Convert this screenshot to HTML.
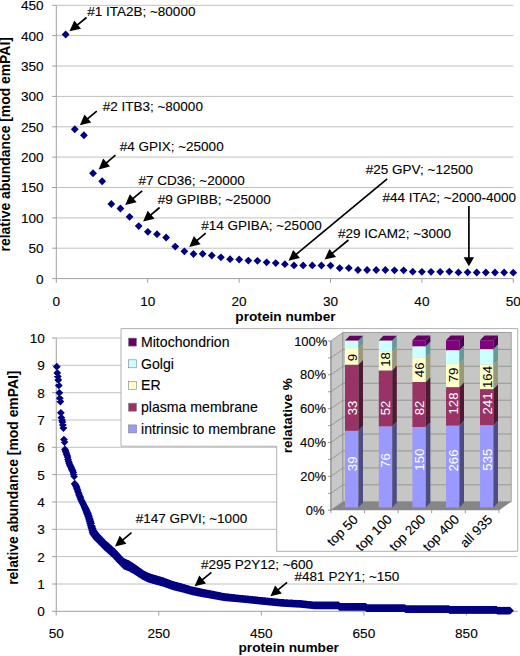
<!DOCTYPE html>
<html><head><meta charset="utf-8"><style>html,body{margin:0;padding:0;background:#fff;width:520px;height:656px;overflow:hidden}</style></head>
<body>
<svg width="520" height="656" viewBox="0 0 520 656" style="display:block;font-family:'Liberation Sans', sans-serif">
<rect width="520" height="656" fill="#fff"/>
<line x1="52" y1="278.6" x2="56.3" y2="278.6" stroke="#a0a0a0" stroke-width="1"/>
<text x="43.6" y="283.5" font-size="13.6" text-anchor="end" font-weight="normal" fill="#000" stroke="#000" stroke-width="0.12" >0</text>
<line x1="56.3" y1="248.2" x2="513.3" y2="248.2" stroke="#c0c0c0" stroke-width="1"/>
<line x1="52" y1="248.2" x2="56.3" y2="248.2" stroke="#a0a0a0" stroke-width="1"/>
<text x="43.6" y="253.1" font-size="13.6" text-anchor="end" font-weight="normal" fill="#000" stroke="#000" stroke-width="0.12" >50</text>
<line x1="56.3" y1="217.9" x2="513.3" y2="217.9" stroke="#c0c0c0" stroke-width="1"/>
<line x1="52" y1="217.9" x2="56.3" y2="217.9" stroke="#a0a0a0" stroke-width="1"/>
<text x="43.6" y="222.8" font-size="13.6" text-anchor="end" font-weight="normal" fill="#000" stroke="#000" stroke-width="0.12" >100</text>
<line x1="56.3" y1="187.5" x2="513.3" y2="187.5" stroke="#c0c0c0" stroke-width="1"/>
<line x1="52" y1="187.5" x2="56.3" y2="187.5" stroke="#a0a0a0" stroke-width="1"/>
<text x="43.6" y="192.4" font-size="13.6" text-anchor="end" font-weight="normal" fill="#000" stroke="#000" stroke-width="0.12" >150</text>
<line x1="56.3" y1="157.1" x2="513.3" y2="157.1" stroke="#c0c0c0" stroke-width="1"/>
<line x1="52" y1="157.1" x2="56.3" y2="157.1" stroke="#a0a0a0" stroke-width="1"/>
<text x="43.6" y="162.0" font-size="13.6" text-anchor="end" font-weight="normal" fill="#000" stroke="#000" stroke-width="0.12" >200</text>
<line x1="56.3" y1="126.8" x2="513.3" y2="126.8" stroke="#c0c0c0" stroke-width="1"/>
<line x1="52" y1="126.8" x2="56.3" y2="126.8" stroke="#a0a0a0" stroke-width="1"/>
<text x="43.6" y="131.7" font-size="13.6" text-anchor="end" font-weight="normal" fill="#000" stroke="#000" stroke-width="0.12" >250</text>
<line x1="56.3" y1="96.4" x2="513.3" y2="96.4" stroke="#c0c0c0" stroke-width="1"/>
<line x1="52" y1="96.4" x2="56.3" y2="96.4" stroke="#a0a0a0" stroke-width="1"/>
<text x="43.6" y="101.3" font-size="13.6" text-anchor="end" font-weight="normal" fill="#000" stroke="#000" stroke-width="0.12" >300</text>
<line x1="56.3" y1="66.0" x2="513.3" y2="66.0" stroke="#c0c0c0" stroke-width="1"/>
<line x1="52" y1="66.0" x2="56.3" y2="66.0" stroke="#a0a0a0" stroke-width="1"/>
<text x="43.6" y="70.9" font-size="13.6" text-anchor="end" font-weight="normal" fill="#000" stroke="#000" stroke-width="0.12" >350</text>
<line x1="56.3" y1="35.6" x2="513.3" y2="35.6" stroke="#c0c0c0" stroke-width="1"/>
<line x1="52" y1="35.6" x2="56.3" y2="35.6" stroke="#a0a0a0" stroke-width="1"/>
<text x="43.6" y="40.5" font-size="13.6" text-anchor="end" font-weight="normal" fill="#000" stroke="#000" stroke-width="0.12" >400</text>
<line x1="56.3" y1="5.3" x2="513.3" y2="5.3" stroke="#c0c0c0" stroke-width="1"/>
<line x1="52" y1="5.3" x2="56.3" y2="5.3" stroke="#a0a0a0" stroke-width="1"/>
<text x="43.6" y="10.2" font-size="13.6" text-anchor="end" font-weight="normal" fill="#000" stroke="#000" stroke-width="0.12" >450</text>
<line x1="56.3" y1="5.3" x2="56.3" y2="278.6" stroke="#a0a0a0" stroke-width="1"/>
<line x1="56.3" y1="278.6" x2="513.3" y2="278.6" stroke="#a0a0a0" stroke-width="1"/>
<line x1="56.3" y1="278.6" x2="56.3" y2="282.8" stroke="#a0a0a0" stroke-width="1"/>
<text x="56.3" y="306.2" font-size="13.6" text-anchor="middle" font-weight="normal" fill="#000" stroke="#000" stroke-width="0.12" >0</text>
<line x1="147.7" y1="278.6" x2="147.7" y2="282.8" stroke="#a0a0a0" stroke-width="1"/>
<text x="147.7" y="306.2" font-size="13.6" text-anchor="middle" font-weight="normal" fill="#000" stroke="#000" stroke-width="0.12" >10</text>
<line x1="239.1" y1="278.6" x2="239.1" y2="282.8" stroke="#a0a0a0" stroke-width="1"/>
<text x="239.1" y="306.2" font-size="13.6" text-anchor="middle" font-weight="normal" fill="#000" stroke="#000" stroke-width="0.12" >20</text>
<line x1="330.5" y1="278.6" x2="330.5" y2="282.8" stroke="#a0a0a0" stroke-width="1"/>
<text x="330.5" y="306.2" font-size="13.6" text-anchor="middle" font-weight="normal" fill="#000" stroke="#000" stroke-width="0.12" >30</text>
<line x1="421.9" y1="278.6" x2="421.9" y2="282.8" stroke="#a0a0a0" stroke-width="1"/>
<text x="421.9" y="306.2" font-size="13.6" text-anchor="middle" font-weight="normal" fill="#000" stroke="#000" stroke-width="0.12" >40</text>
<line x1="513.3" y1="278.6" x2="513.3" y2="282.8" stroke="#a0a0a0" stroke-width="1"/>
<text x="513.3" y="306.2" font-size="13.6" text-anchor="middle" font-weight="normal" fill="#000" stroke="#000" stroke-width="0.12" >50</text>
<text x="285.5" y="320.9" font-size="13.7" text-anchor="middle" font-weight="bold" fill="#000" >protein number</text>
<text x="0.0" y="0.0" font-size="13.9" text-anchor="middle" font-weight="bold" fill="#000" transform="translate(10,144.3) rotate(-90)">relative abundance [mod emPAI]</text>
<path d="M65.64 30.60l3.9 3.9l-3.9 3.9l-3.9 -3.9zM74.77 125.35l3.9 3.9l-3.9 3.9l-3.9 -3.9zM83.91 131.35l3.9 3.9l-3.9 3.9l-3.9 -3.9zM93.04 169.35l3.9 3.9l-3.9 3.9l-3.9 -3.9zM102.17 177.35l3.9 3.9l-3.9 3.9l-3.9 -3.9zM111.31 200.10l3.9 3.9l-3.9 3.9l-3.9 -3.9zM120.44 204.60l3.9 3.9l-3.9 3.9l-3.9 -3.9zM129.58 212.90l3.9 3.9l-3.9 3.9l-3.9 -3.9zM138.72 222.20l3.9 3.9l-3.9 3.9l-3.9 -3.9zM147.85 227.90l3.9 3.9l-3.9 3.9l-3.9 -3.9zM156.99 230.30l3.9 3.9l-3.9 3.9l-3.9 -3.9zM166.12 233.60l3.9 3.9l-3.9 3.9l-3.9 -3.9zM175.25 242.70l3.9 3.9l-3.9 3.9l-3.9 -3.9zM184.39 247.40l3.9 3.9l-3.9 3.9l-3.9 -3.9zM193.53 250.10l3.9 3.9l-3.9 3.9l-3.9 -3.9zM202.66 249.90l3.9 3.9l-3.9 3.9l-3.9 -3.9zM211.79 251.60l3.9 3.9l-3.9 3.9l-3.9 -3.9zM220.93 253.40l3.9 3.9l-3.9 3.9l-3.9 -3.9zM230.06 255.30l3.9 3.9l-3.9 3.9l-3.9 -3.9zM239.20 255.60l3.9 3.9l-3.9 3.9l-3.9 -3.9zM248.34 256.70l3.9 3.9l-3.9 3.9l-3.9 -3.9zM257.47 256.90l3.9 3.9l-3.9 3.9l-3.9 -3.9zM266.61 258.40l3.9 3.9l-3.9 3.9l-3.9 -3.9zM275.74 259.20l3.9 3.9l-3.9 3.9l-3.9 -3.9zM284.88 260.30l3.9 3.9l-3.9 3.9l-3.9 -3.9zM294.01 261.50l3.9 3.9l-3.9 3.9l-3.9 -3.9zM303.14 261.50l3.9 3.9l-3.9 3.9l-3.9 -3.9zM312.28 261.50l3.9 3.9l-3.9 3.9l-3.9 -3.9zM321.42 261.60l3.9 3.9l-3.9 3.9l-3.9 -3.9zM330.55 261.70l3.9 3.9l-3.9 3.9l-3.9 -3.9zM339.69 264.20l3.9 3.9l-3.9 3.9l-3.9 -3.9zM348.82 264.20l3.9 3.9l-3.9 3.9l-3.9 -3.9zM357.95 266.10l3.9 3.9l-3.9 3.9l-3.9 -3.9zM367.09 266.10l3.9 3.9l-3.9 3.9l-3.9 -3.9zM376.22 266.10l3.9 3.9l-3.9 3.9l-3.9 -3.9zM385.36 266.10l3.9 3.9l-3.9 3.9l-3.9 -3.9zM394.50 266.40l3.9 3.9l-3.9 3.9l-3.9 -3.9zM403.63 266.40l3.9 3.9l-3.9 3.9l-3.9 -3.9zM412.76 267.80l3.9 3.9l-3.9 3.9l-3.9 -3.9zM421.90 267.90l3.9 3.9l-3.9 3.9l-3.9 -3.9zM431.03 267.90l3.9 3.9l-3.9 3.9l-3.9 -3.9zM440.17 267.90l3.9 3.9l-3.9 3.9l-3.9 -3.9zM449.31 267.70l3.9 3.9l-3.9 3.9l-3.9 -3.9zM458.44 268.50l3.9 3.9l-3.9 3.9l-3.9 -3.9zM467.57 268.40l3.9 3.9l-3.9 3.9l-3.9 -3.9zM476.71 268.60l3.9 3.9l-3.9 3.9l-3.9 -3.9zM485.84 268.60l3.9 3.9l-3.9 3.9l-3.9 -3.9zM494.98 268.60l3.9 3.9l-3.9 3.9l-3.9 -3.9zM504.12 268.60l3.9 3.9l-3.9 3.9l-3.9 -3.9zM513.25 268.80l3.9 3.9l-3.9 3.9l-3.9 -3.9z" fill="#000080"/>
<text x="87.2" y="16.1" font-size="13.5" text-anchor="start" font-weight="normal" fill="#000" stroke="#000" stroke-width="0.12" >#1 ITA2B; ~80000</text>
<line x1="86.5" y1="17.5" x2="76.9" y2="25.3" stroke="#000" stroke-width="1.7"/>
<path d="M69.5 31.3L74.3 20.6L81.0 28.8Z" fill="#000"/>
<text x="102.7" y="110.6" font-size="13.5" text-anchor="start" font-weight="normal" fill="#000" stroke="#000" stroke-width="0.12" >#2 ITB3; ~80000</text>
<line x1="96.8" y1="111.1" x2="87.1" y2="119.1" stroke="#000" stroke-width="1.7"/>
<path d="M79.8 125.2L84.5 114.5L91.2 122.5Z" fill="#000"/>
<text x="119.7" y="151.4" font-size="13.5" text-anchor="start" font-weight="normal" fill="#000" stroke="#000" stroke-width="0.12" >#4 GPIX; ~25000</text>
<line x1="115.4" y1="155.2" x2="105.9" y2="163.3" stroke="#000" stroke-width="1.7"/>
<path d="M98.6 169.4L103.2 158.6L110.0 166.6Z" fill="#000"/>
<text x="138.5" y="185.0" font-size="13.5" text-anchor="start" font-weight="normal" fill="#000" stroke="#000" stroke-width="0.12" >#7 CD36; ~20000</text>
<line x1="142.2" y1="190.8" x2="132.5" y2="198.9" stroke="#000" stroke-width="1.7"/>
<path d="M125.2 205.0L129.9 194.2L136.6 202.3Z" fill="#000"/>
<text x="157.7" y="204.2" font-size="13.5" text-anchor="start" font-weight="normal" fill="#000" stroke="#000" stroke-width="0.12" >#9 GPIBB; ~25000</text>
<line x1="159.6" y1="207.5" x2="150.3" y2="215.4" stroke="#000" stroke-width="1.7"/>
<path d="M143.1 221.5L147.7 210.7L154.5 218.7Z" fill="#000"/>
<text x="201.2" y="229.6" font-size="13.5" text-anchor="start" font-weight="normal" fill="#000" stroke="#000" stroke-width="0.12" >#14 GPIBA; ~25000</text>
<line x1="205.7" y1="233.1" x2="196.5" y2="240.8" stroke="#000" stroke-width="1.7"/>
<path d="M189.2 246.9L193.9 236.1L200.6 244.2Z" fill="#000"/>
<text x="365.8" y="174.0" font-size="13.5" text-anchor="start" font-weight="normal" fill="#000" stroke="#000" stroke-width="0.12" >#25 GPV; ~12500</text>
<line x1="387.2" y1="178.8" x2="295.8" y2="254.7" stroke="#000" stroke-width="1.7"/>
<path d="M288.5 260.8L293.2 250.1L299.9 258.1Z" fill="#000"/>
<text x="382.4" y="201.7" font-size="13.5" text-anchor="start" font-weight="normal" fill="#000" stroke="#000" stroke-width="0.12" >#44 ITA2; ~2000-4000</text>
<line x1="468.9" y1="206.0" x2="468.9" y2="258.3" stroke="#000" stroke-width="1.7"/>
<path d="M468.9 266.3L463.6 257.3L474.1 257.3Z" fill="#000"/>
<text x="338.1" y="237.7" font-size="13.5" text-anchor="start" font-weight="normal" fill="#000" stroke="#000" stroke-width="0.12" >#29 ICAM2; ~3000</text>
<line x1="348.5" y1="240.0" x2="331.9" y2="253.6" stroke="#000" stroke-width="1.7"/>
<path d="M324.6 259.6L329.4 248.9L336.0 257.0Z" fill="#000"/>
<line x1="52" y1="611.3" x2="56.25" y2="611.3" stroke="#a0a0a0" stroke-width="1"/>
<text x="44.8" y="616.2" font-size="13.6" text-anchor="end" font-weight="normal" fill="#000" stroke="#000" stroke-width="0.12" >0</text>
<line x1="56.25" y1="584.0" x2="517.7" y2="584.0" stroke="#c0c0c0" stroke-width="1"/>
<line x1="52" y1="584.0" x2="56.25" y2="584.0" stroke="#a0a0a0" stroke-width="1"/>
<text x="44.8" y="588.9" font-size="13.6" text-anchor="end" font-weight="normal" fill="#000" stroke="#000" stroke-width="0.12" >1</text>
<line x1="56.25" y1="556.6" x2="517.7" y2="556.6" stroke="#c0c0c0" stroke-width="1"/>
<line x1="52" y1="556.6" x2="56.25" y2="556.6" stroke="#a0a0a0" stroke-width="1"/>
<text x="44.8" y="561.5" font-size="13.6" text-anchor="end" font-weight="normal" fill="#000" stroke="#000" stroke-width="0.12" >2</text>
<line x1="56.25" y1="529.3" x2="517.7" y2="529.3" stroke="#c0c0c0" stroke-width="1"/>
<line x1="52" y1="529.3" x2="56.25" y2="529.3" stroke="#a0a0a0" stroke-width="1"/>
<text x="44.8" y="534.2" font-size="13.6" text-anchor="end" font-weight="normal" fill="#000" stroke="#000" stroke-width="0.12" >3</text>
<line x1="56.25" y1="502.0" x2="517.7" y2="502.0" stroke="#c0c0c0" stroke-width="1"/>
<line x1="52" y1="502.0" x2="56.25" y2="502.0" stroke="#a0a0a0" stroke-width="1"/>
<text x="44.8" y="506.9" font-size="13.6" text-anchor="end" font-weight="normal" fill="#000" stroke="#000" stroke-width="0.12" >4</text>
<line x1="56.25" y1="474.6" x2="517.7" y2="474.6" stroke="#c0c0c0" stroke-width="1"/>
<line x1="52" y1="474.6" x2="56.25" y2="474.6" stroke="#a0a0a0" stroke-width="1"/>
<text x="44.8" y="479.5" font-size="13.6" text-anchor="end" font-weight="normal" fill="#000" stroke="#000" stroke-width="0.12" >5</text>
<line x1="56.25" y1="447.3" x2="517.7" y2="447.3" stroke="#c0c0c0" stroke-width="1"/>
<line x1="52" y1="447.3" x2="56.25" y2="447.3" stroke="#a0a0a0" stroke-width="1"/>
<text x="44.8" y="452.2" font-size="13.6" text-anchor="end" font-weight="normal" fill="#000" stroke="#000" stroke-width="0.12" >6</text>
<line x1="56.25" y1="420.0" x2="517.7" y2="420.0" stroke="#c0c0c0" stroke-width="1"/>
<line x1="52" y1="420.0" x2="56.25" y2="420.0" stroke="#a0a0a0" stroke-width="1"/>
<text x="44.8" y="424.9" font-size="13.6" text-anchor="end" font-weight="normal" fill="#000" stroke="#000" stroke-width="0.12" >7</text>
<line x1="56.25" y1="392.7" x2="517.7" y2="392.7" stroke="#c0c0c0" stroke-width="1"/>
<line x1="52" y1="392.7" x2="56.25" y2="392.7" stroke="#a0a0a0" stroke-width="1"/>
<text x="44.8" y="397.6" font-size="13.6" text-anchor="end" font-weight="normal" fill="#000" stroke="#000" stroke-width="0.12" >8</text>
<line x1="56.25" y1="365.3" x2="517.7" y2="365.3" stroke="#c0c0c0" stroke-width="1"/>
<line x1="52" y1="365.3" x2="56.25" y2="365.3" stroke="#a0a0a0" stroke-width="1"/>
<text x="44.8" y="370.2" font-size="13.6" text-anchor="end" font-weight="normal" fill="#000" stroke="#000" stroke-width="0.12" >9</text>
<line x1="56.25" y1="338.0" x2="517.7" y2="338.0" stroke="#c0c0c0" stroke-width="1"/>
<line x1="52" y1="338.0" x2="56.25" y2="338.0" stroke="#a0a0a0" stroke-width="1"/>
<text x="44.8" y="342.9" font-size="13.6" text-anchor="end" font-weight="normal" fill="#000" stroke="#000" stroke-width="0.12" >10</text>
<line x1="56.25" y1="338.0" x2="56.25" y2="611.3" stroke="#a0a0a0" stroke-width="1"/>
<line x1="56.25" y1="611.3" x2="517.7" y2="611.3" stroke="#a0a0a0" stroke-width="1"/>
<line x1="56.2" y1="611.3" x2="56.2" y2="615.5" stroke="#a0a0a0" stroke-width="1"/>
<text x="56.2" y="638.0" font-size="13.6" text-anchor="middle" font-weight="normal" fill="#000" stroke="#000" stroke-width="0.12" >50</text>
<line x1="158.8" y1="611.3" x2="158.8" y2="615.5" stroke="#a0a0a0" stroke-width="1"/>
<text x="158.8" y="638.0" font-size="13.6" text-anchor="middle" font-weight="normal" fill="#000" stroke="#000" stroke-width="0.12" >250</text>
<line x1="261.3" y1="611.3" x2="261.3" y2="615.5" stroke="#a0a0a0" stroke-width="1"/>
<text x="261.3" y="638.0" font-size="13.6" text-anchor="middle" font-weight="normal" fill="#000" stroke="#000" stroke-width="0.12" >450</text>
<line x1="363.9" y1="611.3" x2="363.9" y2="615.5" stroke="#a0a0a0" stroke-width="1"/>
<text x="363.9" y="638.0" font-size="13.6" text-anchor="middle" font-weight="normal" fill="#000" stroke="#000" stroke-width="0.12" >650</text>
<line x1="466.4" y1="611.3" x2="466.4" y2="615.5" stroke="#a0a0a0" stroke-width="1"/>
<text x="466.4" y="638.0" font-size="13.6" text-anchor="middle" font-weight="normal" fill="#000" stroke="#000" stroke-width="0.12" >850</text>
<text x="288.7" y="652.2" font-size="13.7" text-anchor="middle" font-weight="bold" fill="#000" >protein number</text>
<text x="0.0" y="0.0" font-size="13.9" text-anchor="middle" font-weight="bold" fill="#000" transform="translate(18.3,477.7) rotate(-90)">relative abundance [mod emPAI]</text>
<path d="M56.76 362.80l3.9 3.9l-3.9 3.9l-3.9 -3.9zM57.28 369.10l3.9 3.9l-3.9 3.9l-3.9 -3.9zM57.79 372.60l3.9 3.9l-3.9 3.9l-3.9 -3.9zM58.30 376.10l3.9 3.9l-3.9 3.9l-3.9 -3.9zM58.81 381.50l3.9 3.9l-3.9 3.9l-3.9 -3.9zM59.33 388.90l3.9 3.9l-3.9 3.9l-3.9 -3.9zM59.84 394.40l3.9 3.9l-3.9 3.9l-3.9 -3.9zM60.35 397.60l3.9 3.9l-3.9 3.9l-3.9 -3.9zM60.86 408.90l3.9 3.9l-3.9 3.9l-3.9 -3.9zM61.38 413.80l3.9 3.9l-3.9 3.9l-3.9 -3.9zM61.89 416.10l3.9 3.9l-3.9 3.9l-3.9 -3.9zM62.40 418.10l3.9 3.9l-3.9 3.9l-3.9 -3.9zM62.92 421.10l3.9 3.9l-3.9 3.9l-3.9 -3.9zM63.43 424.10l3.9 3.9l-3.9 3.9l-3.9 -3.9zM63.94 435.70l3.9 3.9l-3.9 3.9l-3.9 -3.9zM64.45 438.10l3.9 3.9l-3.9 3.9l-3.9 -3.9zM64.97 445.60l3.9 3.9l-3.9 3.9l-3.9 -3.9zM65.48 447.10l3.9 3.9l-3.9 3.9l-3.9 -3.9zM65.99 448.60l3.9 3.9l-3.9 3.9l-3.9 -3.9zM66.50 450.10l3.9 3.9l-3.9 3.9l-3.9 -3.9zM67.02 451.60l3.9 3.9l-3.9 3.9l-3.9 -3.9zM67.53 453.10l3.9 3.9l-3.9 3.9l-3.9 -3.9zM68.04 455.60l3.9 3.9l-3.9 3.9l-3.9 -3.9zM68.56 457.60l3.9 3.9l-3.9 3.9l-3.9 -3.9zM69.07 459.10l3.9 3.9l-3.9 3.9l-3.9 -3.9zM69.58 460.60l3.9 3.9l-3.9 3.9l-3.9 -3.9zM70.09 461.60l3.9 3.9l-3.9 3.9l-3.9 -3.9zM70.61 462.60l3.9 3.9l-3.9 3.9l-3.9 -3.9zM71.12 463.60l3.9 3.9l-3.9 3.9l-3.9 -3.9zM71.63 465.10l3.9 3.9l-3.9 3.9l-3.9 -3.9zM72.14 466.10l3.9 3.9l-3.9 3.9l-3.9 -3.9zM72.66 467.10l3.9 3.9l-3.9 3.9l-3.9 -3.9zM73.17 468.60l3.9 3.9l-3.9 3.9l-3.9 -3.9zM73.68 470.60l3.9 3.9l-3.9 3.9l-3.9 -3.9zM74.20 472.40l3.9 3.9l-3.9 3.9l-3.9 -3.9zM74.71 479.87l3.9 3.9l-3.9 3.9l-3.9 -3.9zM75.22 480.69l3.9 3.9l-3.9 3.9l-3.9 -3.9zM75.73 481.51l3.9 3.9l-3.9 3.9l-3.9 -3.9zM76.25 482.54l3.9 3.9l-3.9 3.9l-3.9 -3.9zM76.76 484.08l3.9 3.9l-3.9 3.9l-3.9 -3.9zM77.27 485.61l3.9 3.9l-3.9 3.9l-3.9 -3.9zM77.78 487.15l3.9 3.9l-3.9 3.9l-3.9 -3.9zM78.30 488.69l3.9 3.9l-3.9 3.9l-3.9 -3.9zM78.81 490.04l3.9 3.9l-3.9 3.9l-3.9 -3.9zM79.32 491.34l3.9 3.9l-3.9 3.9l-3.9 -3.9zM79.84 492.64l3.9 3.9l-3.9 3.9l-3.9 -3.9zM80.35 493.93l3.9 3.9l-3.9 3.9l-3.9 -3.9zM80.86 495.23l3.9 3.9l-3.9 3.9l-3.9 -3.9zM81.37 496.53l3.9 3.9l-3.9 3.9l-3.9 -3.9zM81.89 497.57l3.9 3.9l-3.9 3.9l-3.9 -3.9zM82.40 498.60l3.9 3.9l-3.9 3.9l-3.9 -3.9zM82.91 499.62l3.9 3.9l-3.9 3.9l-3.9 -3.9zM83.42 500.65l3.9 3.9l-3.9 3.9l-3.9 -3.9zM83.94 501.67l3.9 3.9l-3.9 3.9l-3.9 -3.9zM84.45 502.70l3.9 3.9l-3.9 3.9l-3.9 -3.9zM84.96 503.72l3.9 3.9l-3.9 3.9l-3.9 -3.9zM85.48 504.87l3.9 3.9l-3.9 3.9l-3.9 -3.9zM85.99 506.13l3.9 3.9l-3.9 3.9l-3.9 -3.9zM86.50 507.39l3.9 3.9l-3.9 3.9l-3.9 -3.9zM87.01 508.65l3.9 3.9l-3.9 3.9l-3.9 -3.9zM87.53 509.90l3.9 3.9l-3.9 3.9l-3.9 -3.9zM88.04 511.16l3.9 3.9l-3.9 3.9l-3.9 -3.9zM88.55 512.64l3.9 3.9l-3.9 3.9l-3.9 -3.9zM89.06 514.36l3.9 3.9l-3.9 3.9l-3.9 -3.9zM89.58 516.07l3.9 3.9l-3.9 3.9l-3.9 -3.9zM90.09 517.79l3.9 3.9l-3.9 3.9l-3.9 -3.9zM90.60 519.51l3.9 3.9l-3.9 3.9l-3.9 -3.9zM91.12 521.32l3.9 3.9l-3.9 3.9l-3.9 -3.9zM91.63 523.14l3.9 3.9l-3.9 3.9l-3.9 -3.9zM92.14 524.96l3.9 3.9l-3.9 3.9l-3.9 -3.9zM92.65 526.77l3.9 3.9l-3.9 3.9l-3.9 -3.9zM93.17 528.22l3.9 3.9l-3.9 3.9l-3.9 -3.9zM93.68 528.91l3.9 3.9l-3.9 3.9l-3.9 -3.9zM94.19 529.60l3.9 3.9l-3.9 3.9l-3.9 -3.9zM94.70 530.29l3.9 3.9l-3.9 3.9l-3.9 -3.9zM95.22 530.98l3.9 3.9l-3.9 3.9l-3.9 -3.9zM95.73 531.66l3.9 3.9l-3.9 3.9l-3.9 -3.9zM96.24 532.35l3.9 3.9l-3.9 3.9l-3.9 -3.9zM96.76 533.04l3.9 3.9l-3.9 3.9l-3.9 -3.9zM97.27 533.57l3.9 3.9l-3.9 3.9l-3.9 -3.9zM97.78 534.08l3.9 3.9l-3.9 3.9l-3.9 -3.9zM98.29 534.59l3.9 3.9l-3.9 3.9l-3.9 -3.9zM98.81 535.11l3.9 3.9l-3.9 3.9l-3.9 -3.9zM99.32 535.62l3.9 3.9l-3.9 3.9l-3.9 -3.9zM99.83 536.13l3.9 3.9l-3.9 3.9l-3.9 -3.9zM100.34 536.64l3.9 3.9l-3.9 3.9l-3.9 -3.9zM100.86 537.16l3.9 3.9l-3.9 3.9l-3.9 -3.9zM101.37 537.67l3.9 3.9l-3.9 3.9l-3.9 -3.9zM101.88 538.19l3.9 3.9l-3.9 3.9l-3.9 -3.9zM102.40 538.71l3.9 3.9l-3.9 3.9l-3.9 -3.9zM102.91 539.24l3.9 3.9l-3.9 3.9l-3.9 -3.9zM103.42 539.77l3.9 3.9l-3.9 3.9l-3.9 -3.9zM103.93 540.30l3.9 3.9l-3.9 3.9l-3.9 -3.9zM104.45 540.83l3.9 3.9l-3.9 3.9l-3.9 -3.9zM104.96 541.34l3.9 3.9l-3.9 3.9l-3.9 -3.9zM105.47 541.80l3.9 3.9l-3.9 3.9l-3.9 -3.9zM105.98 542.26l3.9 3.9l-3.9 3.9l-3.9 -3.9zM106.50 542.72l3.9 3.9l-3.9 3.9l-3.9 -3.9zM107.01 543.18l3.9 3.9l-3.9 3.9l-3.9 -3.9zM107.52 543.64l3.9 3.9l-3.9 3.9l-3.9 -3.9zM108.03 544.10l3.9 3.9l-3.9 3.9l-3.9 -3.9zM108.55 544.56l3.9 3.9l-3.9 3.9l-3.9 -3.9zM109.06 545.02l3.9 3.9l-3.9 3.9l-3.9 -3.9zM109.57 545.48l3.9 3.9l-3.9 3.9l-3.9 -3.9zM110.09 545.94l3.9 3.9l-3.9 3.9l-3.9 -3.9zM110.60 546.40l3.9 3.9l-3.9 3.9l-3.9 -3.9zM111.11 546.87l3.9 3.9l-3.9 3.9l-3.9 -3.9zM111.62 547.33l3.9 3.9l-3.9 3.9l-3.9 -3.9zM112.14 547.80l3.9 3.9l-3.9 3.9l-3.9 -3.9zM112.65 548.26l3.9 3.9l-3.9 3.9l-3.9 -3.9zM113.16 548.73l3.9 3.9l-3.9 3.9l-3.9 -3.9zM113.67 549.19l3.9 3.9l-3.9 3.9l-3.9 -3.9zM114.19 549.66l3.9 3.9l-3.9 3.9l-3.9 -3.9zM114.70 550.18l3.9 3.9l-3.9 3.9l-3.9 -3.9zM115.21 550.74l3.9 3.9l-3.9 3.9l-3.9 -3.9zM115.73 551.30l3.9 3.9l-3.9 3.9l-3.9 -3.9zM116.24 551.86l3.9 3.9l-3.9 3.9l-3.9 -3.9zM116.75 552.42l3.9 3.9l-3.9 3.9l-3.9 -3.9zM117.26 552.98l3.9 3.9l-3.9 3.9l-3.9 -3.9zM117.78 553.54l3.9 3.9l-3.9 3.9l-3.9 -3.9zM118.29 554.10l3.9 3.9l-3.9 3.9l-3.9 -3.9zM118.80 554.66l3.9 3.9l-3.9 3.9l-3.9 -3.9zM119.31 555.21l3.9 3.9l-3.9 3.9l-3.9 -3.9zM119.83 555.73l3.9 3.9l-3.9 3.9l-3.9 -3.9zM120.34 556.24l3.9 3.9l-3.9 3.9l-3.9 -3.9zM120.85 556.75l3.9 3.9l-3.9 3.9l-3.9 -3.9zM121.37 557.27l3.9 3.9l-3.9 3.9l-3.9 -3.9zM121.88 557.78l3.9 3.9l-3.9 3.9l-3.9 -3.9zM122.39 558.29l3.9 3.9l-3.9 3.9l-3.9 -3.9zM122.90 558.80l3.9 3.9l-3.9 3.9l-3.9 -3.9zM123.42 559.32l3.9 3.9l-3.9 3.9l-3.9 -3.9zM123.93 559.83l3.9 3.9l-3.9 3.9l-3.9 -3.9zM124.44 560.08l3.9 3.9l-3.9 3.9l-3.9 -3.9zM124.95 560.30l3.9 3.9l-3.9 3.9l-3.9 -3.9zM125.47 560.51l3.9 3.9l-3.9 3.9l-3.9 -3.9zM125.98 560.73l3.9 3.9l-3.9 3.9l-3.9 -3.9zM126.49 560.94l3.9 3.9l-3.9 3.9l-3.9 -3.9zM127.01 561.15l3.9 3.9l-3.9 3.9l-3.9 -3.9zM127.52 561.37l3.9 3.9l-3.9 3.9l-3.9 -3.9zM128.03 561.58l3.9 3.9l-3.9 3.9l-3.9 -3.9zM128.54 561.79l3.9 3.9l-3.9 3.9l-3.9 -3.9zM129.06 562.05l3.9 3.9l-3.9 3.9l-3.9 -3.9zM129.57 562.36l3.9 3.9l-3.9 3.9l-3.9 -3.9zM130.08 562.66l3.9 3.9l-3.9 3.9l-3.9 -3.9zM130.59 562.96l3.9 3.9l-3.9 3.9l-3.9 -3.9zM131.11 563.27l3.9 3.9l-3.9 3.9l-3.9 -3.9zM131.62 563.57l3.9 3.9l-3.9 3.9l-3.9 -3.9zM132.13 563.87l3.9 3.9l-3.9 3.9l-3.9 -3.9zM132.65 564.18l3.9 3.9l-3.9 3.9l-3.9 -3.9zM133.16 564.48l3.9 3.9l-3.9 3.9l-3.9 -3.9zM133.67 564.78l3.9 3.9l-3.9 3.9l-3.9 -3.9zM134.18 565.13l3.9 3.9l-3.9 3.9l-3.9 -3.9zM134.70 565.49l3.9 3.9l-3.9 3.9l-3.9 -3.9zM135.21 565.84l3.9 3.9l-3.9 3.9l-3.9 -3.9zM135.72 566.19l3.9 3.9l-3.9 3.9l-3.9 -3.9zM136.23 566.54l3.9 3.9l-3.9 3.9l-3.9 -3.9zM136.75 566.90l3.9 3.9l-3.9 3.9l-3.9 -3.9zM137.26 567.25l3.9 3.9l-3.9 3.9l-3.9 -3.9zM137.77 567.60l3.9 3.9l-3.9 3.9l-3.9 -3.9zM138.29 567.95l3.9 3.9l-3.9 3.9l-3.9 -3.9zM138.80 568.30l3.9 3.9l-3.9 3.9l-3.9 -3.9zM139.31 568.64l3.9 3.9l-3.9 3.9l-3.9 -3.9zM139.82 568.98l3.9 3.9l-3.9 3.9l-3.9 -3.9zM140.34 569.32l3.9 3.9l-3.9 3.9l-3.9 -3.9zM140.85 569.67l3.9 3.9l-3.9 3.9l-3.9 -3.9zM141.36 570.01l3.9 3.9l-3.9 3.9l-3.9 -3.9zM141.87 570.35l3.9 3.9l-3.9 3.9l-3.9 -3.9zM142.39 570.69l3.9 3.9l-3.9 3.9l-3.9 -3.9zM142.90 571.03l3.9 3.9l-3.9 3.9l-3.9 -3.9zM143.41 571.36l3.9 3.9l-3.9 3.9l-3.9 -3.9zM143.93 571.62l3.9 3.9l-3.9 3.9l-3.9 -3.9zM144.44 571.88l3.9 3.9l-3.9 3.9l-3.9 -3.9zM144.95 572.14l3.9 3.9l-3.9 3.9l-3.9 -3.9zM145.46 572.40l3.9 3.9l-3.9 3.9l-3.9 -3.9zM145.98 572.67l3.9 3.9l-3.9 3.9l-3.9 -3.9zM146.49 572.93l3.9 3.9l-3.9 3.9l-3.9 -3.9zM147.00 573.19l3.9 3.9l-3.9 3.9l-3.9 -3.9zM147.51 573.45l3.9 3.9l-3.9 3.9l-3.9 -3.9zM148.03 573.71l3.9 3.9l-3.9 3.9l-3.9 -3.9zM148.54 573.87l3.9 3.9l-3.9 3.9l-3.9 -3.9zM149.05 574.03l3.9 3.9l-3.9 3.9l-3.9 -3.9zM149.57 574.18l3.9 3.9l-3.9 3.9l-3.9 -3.9zM150.08 574.34l3.9 3.9l-3.9 3.9l-3.9 -3.9zM150.59 574.50l3.9 3.9l-3.9 3.9l-3.9 -3.9zM151.10 574.66l3.9 3.9l-3.9 3.9l-3.9 -3.9zM151.62 574.82l3.9 3.9l-3.9 3.9l-3.9 -3.9zM152.13 574.98l3.9 3.9l-3.9 3.9l-3.9 -3.9zM152.64 575.13l3.9 3.9l-3.9 3.9l-3.9 -3.9zM153.15 575.29l3.9 3.9l-3.9 3.9l-3.9 -3.9zM153.67 575.45l3.9 3.9l-3.9 3.9l-3.9 -3.9zM154.18 575.59l3.9 3.9l-3.9 3.9l-3.9 -3.9zM154.69 575.74l3.9 3.9l-3.9 3.9l-3.9 -3.9zM155.21 575.88l3.9 3.9l-3.9 3.9l-3.9 -3.9zM155.72 576.02l3.9 3.9l-3.9 3.9l-3.9 -3.9zM156.23 576.17l3.9 3.9l-3.9 3.9l-3.9 -3.9zM156.74 576.31l3.9 3.9l-3.9 3.9l-3.9 -3.9zM157.26 576.46l3.9 3.9l-3.9 3.9l-3.9 -3.9zM157.77 576.60l3.9 3.9l-3.9 3.9l-3.9 -3.9zM158.28 576.74l3.9 3.9l-3.9 3.9l-3.9 -3.9zM158.79 576.89l3.9 3.9l-3.9 3.9l-3.9 -3.9zM159.31 577.03l3.9 3.9l-3.9 3.9l-3.9 -3.9zM159.82 577.18l3.9 3.9l-3.9 3.9l-3.9 -3.9zM160.33 577.32l3.9 3.9l-3.9 3.9l-3.9 -3.9zM160.85 577.47l3.9 3.9l-3.9 3.9l-3.9 -3.9zM161.36 577.61l3.9 3.9l-3.9 3.9l-3.9 -3.9zM161.87 577.75l3.9 3.9l-3.9 3.9l-3.9 -3.9zM162.38 577.90l3.9 3.9l-3.9 3.9l-3.9 -3.9zM162.90 578.04l3.9 3.9l-3.9 3.9l-3.9 -3.9zM163.41 578.21l3.9 3.9l-3.9 3.9l-3.9 -3.9zM163.92 578.40l3.9 3.9l-3.9 3.9l-3.9 -3.9zM164.43 578.59l3.9 3.9l-3.9 3.9l-3.9 -3.9zM164.95 578.77l3.9 3.9l-3.9 3.9l-3.9 -3.9zM165.46 578.96l3.9 3.9l-3.9 3.9l-3.9 -3.9zM165.97 579.15l3.9 3.9l-3.9 3.9l-3.9 -3.9zM166.49 579.33l3.9 3.9l-3.9 3.9l-3.9 -3.9zM167.00 579.52l3.9 3.9l-3.9 3.9l-3.9 -3.9zM167.51 579.71l3.9 3.9l-3.9 3.9l-3.9 -3.9zM168.02 579.90l3.9 3.9l-3.9 3.9l-3.9 -3.9zM168.54 580.08l3.9 3.9l-3.9 3.9l-3.9 -3.9zM169.05 580.27l3.9 3.9l-3.9 3.9l-3.9 -3.9zM169.56 580.46l3.9 3.9l-3.9 3.9l-3.9 -3.9zM170.07 580.64l3.9 3.9l-3.9 3.9l-3.9 -3.9zM170.59 580.83l3.9 3.9l-3.9 3.9l-3.9 -3.9zM171.10 581.02l3.9 3.9l-3.9 3.9l-3.9 -3.9zM171.61 581.20l3.9 3.9l-3.9 3.9l-3.9 -3.9zM172.13 581.39l3.9 3.9l-3.9 3.9l-3.9 -3.9zM172.64 581.58l3.9 3.9l-3.9 3.9l-3.9 -3.9zM173.15 581.72l3.9 3.9l-3.9 3.9l-3.9 -3.9zM173.66 581.85l3.9 3.9l-3.9 3.9l-3.9 -3.9zM174.18 581.98l3.9 3.9l-3.9 3.9l-3.9 -3.9zM174.69 582.12l3.9 3.9l-3.9 3.9l-3.9 -3.9zM175.20 582.25l3.9 3.9l-3.9 3.9l-3.9 -3.9zM175.71 582.38l3.9 3.9l-3.9 3.9l-3.9 -3.9zM176.23 582.52l3.9 3.9l-3.9 3.9l-3.9 -3.9zM176.74 582.65l3.9 3.9l-3.9 3.9l-3.9 -3.9zM177.25 582.79l3.9 3.9l-3.9 3.9l-3.9 -3.9zM177.77 582.92l3.9 3.9l-3.9 3.9l-3.9 -3.9zM178.28 583.05l3.9 3.9l-3.9 3.9l-3.9 -3.9zM178.79 583.19l3.9 3.9l-3.9 3.9l-3.9 -3.9zM179.30 583.32l3.9 3.9l-3.9 3.9l-3.9 -3.9zM179.82 583.45l3.9 3.9l-3.9 3.9l-3.9 -3.9zM180.33 583.59l3.9 3.9l-3.9 3.9l-3.9 -3.9zM180.84 583.72l3.9 3.9l-3.9 3.9l-3.9 -3.9zM181.35 583.85l3.9 3.9l-3.9 3.9l-3.9 -3.9zM181.87 583.99l3.9 3.9l-3.9 3.9l-3.9 -3.9zM182.38 584.12l3.9 3.9l-3.9 3.9l-3.9 -3.9zM182.89 584.27l3.9 3.9l-3.9 3.9l-3.9 -3.9zM183.41 584.42l3.9 3.9l-3.9 3.9l-3.9 -3.9zM183.92 584.57l3.9 3.9l-3.9 3.9l-3.9 -3.9zM184.43 584.72l3.9 3.9l-3.9 3.9l-3.9 -3.9zM184.94 584.87l3.9 3.9l-3.9 3.9l-3.9 -3.9zM185.46 585.02l3.9 3.9l-3.9 3.9l-3.9 -3.9zM185.97 585.17l3.9 3.9l-3.9 3.9l-3.9 -3.9zM186.48 585.32l3.9 3.9l-3.9 3.9l-3.9 -3.9zM186.99 585.47l3.9 3.9l-3.9 3.9l-3.9 -3.9zM187.51 585.62l3.9 3.9l-3.9 3.9l-3.9 -3.9zM188.02 585.77l3.9 3.9l-3.9 3.9l-3.9 -3.9zM188.53 585.92l3.9 3.9l-3.9 3.9l-3.9 -3.9zM189.05 586.07l3.9 3.9l-3.9 3.9l-3.9 -3.9zM189.56 586.22l3.9 3.9l-3.9 3.9l-3.9 -3.9zM190.07 586.37l3.9 3.9l-3.9 3.9l-3.9 -3.9zM190.58 586.52l3.9 3.9l-3.9 3.9l-3.9 -3.9zM191.10 586.67l3.9 3.9l-3.9 3.9l-3.9 -3.9zM191.61 586.82l3.9 3.9l-3.9 3.9l-3.9 -3.9zM192.12 586.95l3.9 3.9l-3.9 3.9l-3.9 -3.9zM192.63 587.05l3.9 3.9l-3.9 3.9l-3.9 -3.9zM193.15 587.16l3.9 3.9l-3.9 3.9l-3.9 -3.9zM193.66 587.27l3.9 3.9l-3.9 3.9l-3.9 -3.9zM194.17 587.37l3.9 3.9l-3.9 3.9l-3.9 -3.9zM194.69 587.48l3.9 3.9l-3.9 3.9l-3.9 -3.9zM195.20 587.59l3.9 3.9l-3.9 3.9l-3.9 -3.9zM195.71 587.69l3.9 3.9l-3.9 3.9l-3.9 -3.9zM196.22 587.80l3.9 3.9l-3.9 3.9l-3.9 -3.9zM196.74 587.91l3.9 3.9l-3.9 3.9l-3.9 -3.9zM197.25 588.01l3.9 3.9l-3.9 3.9l-3.9 -3.9zM197.76 588.12l3.9 3.9l-3.9 3.9l-3.9 -3.9zM198.27 588.23l3.9 3.9l-3.9 3.9l-3.9 -3.9zM198.79 588.33l3.9 3.9l-3.9 3.9l-3.9 -3.9zM199.30 588.44l3.9 3.9l-3.9 3.9l-3.9 -3.9zM199.81 588.55l3.9 3.9l-3.9 3.9l-3.9 -3.9zM200.32 588.66l3.9 3.9l-3.9 3.9l-3.9 -3.9zM200.84 588.76l3.9 3.9l-3.9 3.9l-3.9 -3.9zM201.35 588.87l3.9 3.9l-3.9 3.9l-3.9 -3.9zM201.86 588.97l3.9 3.9l-3.9 3.9l-3.9 -3.9zM202.38 589.06l3.9 3.9l-3.9 3.9l-3.9 -3.9zM202.89 589.16l3.9 3.9l-3.9 3.9l-3.9 -3.9zM203.40 589.25l3.9 3.9l-3.9 3.9l-3.9 -3.9zM203.91 589.35l3.9 3.9l-3.9 3.9l-3.9 -3.9zM204.43 589.44l3.9 3.9l-3.9 3.9l-3.9 -3.9zM204.94 589.54l3.9 3.9l-3.9 3.9l-3.9 -3.9zM205.45 589.63l3.9 3.9l-3.9 3.9l-3.9 -3.9zM205.96 589.73l3.9 3.9l-3.9 3.9l-3.9 -3.9zM206.48 589.82l3.9 3.9l-3.9 3.9l-3.9 -3.9zM206.99 589.92l3.9 3.9l-3.9 3.9l-3.9 -3.9zM207.50 590.01l3.9 3.9l-3.9 3.9l-3.9 -3.9zM208.02 590.11l3.9 3.9l-3.9 3.9l-3.9 -3.9zM208.53 590.20l3.9 3.9l-3.9 3.9l-3.9 -3.9zM209.04 590.30l3.9 3.9l-3.9 3.9l-3.9 -3.9zM209.55 590.39l3.9 3.9l-3.9 3.9l-3.9 -3.9zM210.07 590.49l3.9 3.9l-3.9 3.9l-3.9 -3.9zM210.58 590.58l3.9 3.9l-3.9 3.9l-3.9 -3.9zM211.09 590.68l3.9 3.9l-3.9 3.9l-3.9 -3.9zM211.60 590.78l3.9 3.9l-3.9 3.9l-3.9 -3.9zM212.12 590.88l3.9 3.9l-3.9 3.9l-3.9 -3.9zM212.63 590.98l3.9 3.9l-3.9 3.9l-3.9 -3.9zM213.14 591.07l3.9 3.9l-3.9 3.9l-3.9 -3.9zM213.66 591.17l3.9 3.9l-3.9 3.9l-3.9 -3.9zM214.17 591.27l3.9 3.9l-3.9 3.9l-3.9 -3.9zM214.68 591.37l3.9 3.9l-3.9 3.9l-3.9 -3.9zM215.19 591.47l3.9 3.9l-3.9 3.9l-3.9 -3.9zM215.71 591.57l3.9 3.9l-3.9 3.9l-3.9 -3.9zM216.22 591.67l3.9 3.9l-3.9 3.9l-3.9 -3.9zM216.73 591.76l3.9 3.9l-3.9 3.9l-3.9 -3.9zM217.24 591.86l3.9 3.9l-3.9 3.9l-3.9 -3.9zM217.76 591.96l3.9 3.9l-3.9 3.9l-3.9 -3.9zM218.27 592.06l3.9 3.9l-3.9 3.9l-3.9 -3.9zM218.78 592.16l3.9 3.9l-3.9 3.9l-3.9 -3.9zM219.30 592.26l3.9 3.9l-3.9 3.9l-3.9 -3.9zM219.81 592.36l3.9 3.9l-3.9 3.9l-3.9 -3.9zM220.32 592.45l3.9 3.9l-3.9 3.9l-3.9 -3.9zM220.83 592.55l3.9 3.9l-3.9 3.9l-3.9 -3.9zM221.35 592.65l3.9 3.9l-3.9 3.9l-3.9 -3.9zM221.86 592.75l3.9 3.9l-3.9 3.9l-3.9 -3.9zM222.37 592.85l3.9 3.9l-3.9 3.9l-3.9 -3.9zM222.88 592.95l3.9 3.9l-3.9 3.9l-3.9 -3.9zM223.40 593.05l3.9 3.9l-3.9 3.9l-3.9 -3.9zM223.91 593.14l3.9 3.9l-3.9 3.9l-3.9 -3.9zM224.42 593.22l3.9 3.9l-3.9 3.9l-3.9 -3.9zM224.94 593.27l3.9 3.9l-3.9 3.9l-3.9 -3.9zM225.45 593.32l3.9 3.9l-3.9 3.9l-3.9 -3.9zM225.96 593.37l3.9 3.9l-3.9 3.9l-3.9 -3.9zM226.47 593.42l3.9 3.9l-3.9 3.9l-3.9 -3.9zM226.99 593.47l3.9 3.9l-3.9 3.9l-3.9 -3.9zM227.50 593.52l3.9 3.9l-3.9 3.9l-3.9 -3.9zM228.01 593.58l3.9 3.9l-3.9 3.9l-3.9 -3.9zM228.52 593.63l3.9 3.9l-3.9 3.9l-3.9 -3.9zM229.04 593.68l3.9 3.9l-3.9 3.9l-3.9 -3.9zM229.55 593.73l3.9 3.9l-3.9 3.9l-3.9 -3.9zM230.06 593.78l3.9 3.9l-3.9 3.9l-3.9 -3.9zM230.58 593.83l3.9 3.9l-3.9 3.9l-3.9 -3.9zM231.09 593.88l3.9 3.9l-3.9 3.9l-3.9 -3.9zM231.60 593.93l3.9 3.9l-3.9 3.9l-3.9 -3.9zM232.11 593.98l3.9 3.9l-3.9 3.9l-3.9 -3.9zM232.63 594.03l3.9 3.9l-3.9 3.9l-3.9 -3.9zM233.14 594.08l3.9 3.9l-3.9 3.9l-3.9 -3.9zM233.65 594.13l3.9 3.9l-3.9 3.9l-3.9 -3.9zM234.16 594.18l3.9 3.9l-3.9 3.9l-3.9 -3.9zM234.68 594.23l3.9 3.9l-3.9 3.9l-3.9 -3.9zM235.19 594.28l3.9 3.9l-3.9 3.9l-3.9 -3.9zM235.70 594.33l3.9 3.9l-3.9 3.9l-3.9 -3.9zM236.22 594.38l3.9 3.9l-3.9 3.9l-3.9 -3.9zM236.73 594.43l3.9 3.9l-3.9 3.9l-3.9 -3.9zM237.24 594.48l3.9 3.9l-3.9 3.9l-3.9 -3.9zM237.75 594.53l3.9 3.9l-3.9 3.9l-3.9 -3.9zM238.27 594.58l3.9 3.9l-3.9 3.9l-3.9 -3.9zM238.78 594.64l3.9 3.9l-3.9 3.9l-3.9 -3.9zM239.29 594.69l3.9 3.9l-3.9 3.9l-3.9 -3.9zM239.80 594.74l3.9 3.9l-3.9 3.9l-3.9 -3.9zM240.32 594.79l3.9 3.9l-3.9 3.9l-3.9 -3.9zM240.83 594.84l3.9 3.9l-3.9 3.9l-3.9 -3.9zM241.34 594.89l3.9 3.9l-3.9 3.9l-3.9 -3.9zM241.86 594.94l3.9 3.9l-3.9 3.9l-3.9 -3.9zM242.37 594.99l3.9 3.9l-3.9 3.9l-3.9 -3.9zM242.88 595.04l3.9 3.9l-3.9 3.9l-3.9 -3.9zM243.39 595.09l3.9 3.9l-3.9 3.9l-3.9 -3.9zM243.91 595.14l3.9 3.9l-3.9 3.9l-3.9 -3.9zM244.42 595.20l3.9 3.9l-3.9 3.9l-3.9 -3.9zM244.93 595.25l3.9 3.9l-3.9 3.9l-3.9 -3.9zM245.44 595.30l3.9 3.9l-3.9 3.9l-3.9 -3.9zM245.96 595.36l3.9 3.9l-3.9 3.9l-3.9 -3.9zM246.47 595.41l3.9 3.9l-3.9 3.9l-3.9 -3.9zM246.98 595.46l3.9 3.9l-3.9 3.9l-3.9 -3.9zM247.50 595.52l3.9 3.9l-3.9 3.9l-3.9 -3.9zM248.01 595.57l3.9 3.9l-3.9 3.9l-3.9 -3.9zM248.52 595.62l3.9 3.9l-3.9 3.9l-3.9 -3.9zM249.03 595.68l3.9 3.9l-3.9 3.9l-3.9 -3.9zM249.55 595.73l3.9 3.9l-3.9 3.9l-3.9 -3.9zM250.06 595.78l3.9 3.9l-3.9 3.9l-3.9 -3.9zM250.57 595.84l3.9 3.9l-3.9 3.9l-3.9 -3.9zM251.08 595.89l3.9 3.9l-3.9 3.9l-3.9 -3.9zM251.60 595.94l3.9 3.9l-3.9 3.9l-3.9 -3.9zM252.11 596.00l3.9 3.9l-3.9 3.9l-3.9 -3.9zM252.62 596.05l3.9 3.9l-3.9 3.9l-3.9 -3.9zM253.14 596.10l3.9 3.9l-3.9 3.9l-3.9 -3.9zM253.65 596.16l3.9 3.9l-3.9 3.9l-3.9 -3.9zM254.16 596.21l3.9 3.9l-3.9 3.9l-3.9 -3.9zM254.67 596.26l3.9 3.9l-3.9 3.9l-3.9 -3.9zM255.19 596.32l3.9 3.9l-3.9 3.9l-3.9 -3.9zM255.70 596.37l3.9 3.9l-3.9 3.9l-3.9 -3.9zM256.21 596.42l3.9 3.9l-3.9 3.9l-3.9 -3.9zM256.72 596.48l3.9 3.9l-3.9 3.9l-3.9 -3.9zM257.24 596.53l3.9 3.9l-3.9 3.9l-3.9 -3.9zM257.75 596.58l3.9 3.9l-3.9 3.9l-3.9 -3.9zM258.26 596.64l3.9 3.9l-3.9 3.9l-3.9 -3.9zM258.78 596.69l3.9 3.9l-3.9 3.9l-3.9 -3.9zM259.29 596.74l3.9 3.9l-3.9 3.9l-3.9 -3.9zM259.80 596.80l3.9 3.9l-3.9 3.9l-3.9 -3.9zM260.31 596.85l3.9 3.9l-3.9 3.9l-3.9 -3.9zM260.83 596.90l3.9 3.9l-3.9 3.9l-3.9 -3.9zM261.34 596.96l3.9 3.9l-3.9 3.9l-3.9 -3.9zM261.85 597.01l3.9 3.9l-3.9 3.9l-3.9 -3.9zM262.36 597.07l3.9 3.9l-3.9 3.9l-3.9 -3.9zM262.88 597.12l3.9 3.9l-3.9 3.9l-3.9 -3.9zM263.39 597.17l3.9 3.9l-3.9 3.9l-3.9 -3.9zM263.90 597.22l3.9 3.9l-3.9 3.9l-3.9 -3.9zM264.42 597.27l3.9 3.9l-3.9 3.9l-3.9 -3.9zM264.93 597.32l3.9 3.9l-3.9 3.9l-3.9 -3.9zM265.44 597.37l3.9 3.9l-3.9 3.9l-3.9 -3.9zM265.95 597.42l3.9 3.9l-3.9 3.9l-3.9 -3.9zM266.47 597.47l3.9 3.9l-3.9 3.9l-3.9 -3.9zM266.98 597.52l3.9 3.9l-3.9 3.9l-3.9 -3.9zM267.49 597.57l3.9 3.9l-3.9 3.9l-3.9 -3.9zM268.00 597.62l3.9 3.9l-3.9 3.9l-3.9 -3.9zM268.52 597.68l3.9 3.9l-3.9 3.9l-3.9 -3.9zM269.03 597.73l3.9 3.9l-3.9 3.9l-3.9 -3.9zM269.54 597.78l3.9 3.9l-3.9 3.9l-3.9 -3.9zM270.06 597.83l3.9 3.9l-3.9 3.9l-3.9 -3.9zM270.57 597.88l3.9 3.9l-3.9 3.9l-3.9 -3.9zM271.08 597.93l3.9 3.9l-3.9 3.9l-3.9 -3.9zM271.59 597.98l3.9 3.9l-3.9 3.9l-3.9 -3.9zM272.11 598.03l3.9 3.9l-3.9 3.9l-3.9 -3.9zM272.62 598.08l3.9 3.9l-3.9 3.9l-3.9 -3.9zM273.13 598.13l3.9 3.9l-3.9 3.9l-3.9 -3.9zM273.64 598.18l3.9 3.9l-3.9 3.9l-3.9 -3.9zM274.16 598.23l3.9 3.9l-3.9 3.9l-3.9 -3.9zM274.67 598.28l3.9 3.9l-3.9 3.9l-3.9 -3.9zM275.18 598.34l3.9 3.9l-3.9 3.9l-3.9 -3.9zM275.70 598.39l3.9 3.9l-3.9 3.9l-3.9 -3.9zM276.21 598.44l3.9 3.9l-3.9 3.9l-3.9 -3.9zM276.72 598.49l3.9 3.9l-3.9 3.9l-3.9 -3.9zM277.23 598.54l3.9 3.9l-3.9 3.9l-3.9 -3.9zM277.75 598.59l3.9 3.9l-3.9 3.9l-3.9 -3.9zM278.26 598.64l3.9 3.9l-3.9 3.9l-3.9 -3.9zM278.77 598.69l3.9 3.9l-3.9 3.9l-3.9 -3.9zM279.28 598.74l3.9 3.9l-3.9 3.9l-3.9 -3.9zM279.80 598.79l3.9 3.9l-3.9 3.9l-3.9 -3.9zM280.31 598.84l3.9 3.9l-3.9 3.9l-3.9 -3.9zM280.82 598.89l3.9 3.9l-3.9 3.9l-3.9 -3.9zM281.34 598.94l3.9 3.9l-3.9 3.9l-3.9 -3.9zM281.85 598.99l3.9 3.9l-3.9 3.9l-3.9 -3.9zM282.36 599.03l3.9 3.9l-3.9 3.9l-3.9 -3.9zM282.87 599.06l3.9 3.9l-3.9 3.9l-3.9 -3.9zM283.39 599.08l3.9 3.9l-3.9 3.9l-3.9 -3.9zM283.90 599.11l3.9 3.9l-3.9 3.9l-3.9 -3.9zM284.41 599.14l3.9 3.9l-3.9 3.9l-3.9 -3.9zM284.92 599.17l3.9 3.9l-3.9 3.9l-3.9 -3.9zM285.44 599.20l3.9 3.9l-3.9 3.9l-3.9 -3.9zM285.95 599.23l3.9 3.9l-3.9 3.9l-3.9 -3.9zM286.46 599.26l3.9 3.9l-3.9 3.9l-3.9 -3.9zM286.98 599.29l3.9 3.9l-3.9 3.9l-3.9 -3.9zM287.49 599.32l3.9 3.9l-3.9 3.9l-3.9 -3.9zM288.00 599.35l3.9 3.9l-3.9 3.9l-3.9 -3.9zM288.51 599.38l3.9 3.9l-3.9 3.9l-3.9 -3.9zM289.03 599.41l3.9 3.9l-3.9 3.9l-3.9 -3.9zM289.54 599.44l3.9 3.9l-3.9 3.9l-3.9 -3.9zM290.05 599.46l3.9 3.9l-3.9 3.9l-3.9 -3.9zM290.56 599.49l3.9 3.9l-3.9 3.9l-3.9 -3.9zM291.08 599.52l3.9 3.9l-3.9 3.9l-3.9 -3.9zM291.59 599.55l3.9 3.9l-3.9 3.9l-3.9 -3.9zM292.10 599.58l3.9 3.9l-3.9 3.9l-3.9 -3.9zM292.61 599.61l3.9 3.9l-3.9 3.9l-3.9 -3.9zM293.13 599.64l3.9 3.9l-3.9 3.9l-3.9 -3.9zM293.64 599.67l3.9 3.9l-3.9 3.9l-3.9 -3.9zM294.15 599.70l3.9 3.9l-3.9 3.9l-3.9 -3.9zM294.67 599.73l3.9 3.9l-3.9 3.9l-3.9 -3.9zM295.18 599.76l3.9 3.9l-3.9 3.9l-3.9 -3.9zM295.69 599.79l3.9 3.9l-3.9 3.9l-3.9 -3.9zM296.20 599.82l3.9 3.9l-3.9 3.9l-3.9 -3.9zM296.72 599.84l3.9 3.9l-3.9 3.9l-3.9 -3.9zM297.23 599.87l3.9 3.9l-3.9 3.9l-3.9 -3.9zM297.74 599.90l3.9 3.9l-3.9 3.9l-3.9 -3.9zM298.25 599.93l3.9 3.9l-3.9 3.9l-3.9 -3.9zM298.77 599.96l3.9 3.9l-3.9 3.9l-3.9 -3.9zM299.28 599.99l3.9 3.9l-3.9 3.9l-3.9 -3.9zM299.79 600.02l3.9 3.9l-3.9 3.9l-3.9 -3.9zM300.31 600.05l3.9 3.9l-3.9 3.9l-3.9 -3.9zM300.82 600.08l3.9 3.9l-3.9 3.9l-3.9 -3.9zM301.33 600.11l3.9 3.9l-3.9 3.9l-3.9 -3.9zM301.84 600.17l3.9 3.9l-3.9 3.9l-3.9 -3.9zM302.36 600.23l3.9 3.9l-3.9 3.9l-3.9 -3.9zM302.87 600.28l3.9 3.9l-3.9 3.9l-3.9 -3.9zM303.38 600.34l3.9 3.9l-3.9 3.9l-3.9 -3.9zM303.89 600.39l3.9 3.9l-3.9 3.9l-3.9 -3.9zM304.41 600.45l3.9 3.9l-3.9 3.9l-3.9 -3.9zM304.92 600.51l3.9 3.9l-3.9 3.9l-3.9 -3.9zM305.43 600.56l3.9 3.9l-3.9 3.9l-3.9 -3.9zM305.95 600.62l3.9 3.9l-3.9 3.9l-3.9 -3.9zM306.46 600.68l3.9 3.9l-3.9 3.9l-3.9 -3.9zM306.97 600.73l3.9 3.9l-3.9 3.9l-3.9 -3.9zM307.48 600.79l3.9 3.9l-3.9 3.9l-3.9 -3.9zM308.00 600.84l3.9 3.9l-3.9 3.9l-3.9 -3.9zM308.51 600.90l3.9 3.9l-3.9 3.9l-3.9 -3.9zM309.02 600.96l3.9 3.9l-3.9 3.9l-3.9 -3.9zM309.53 601.01l3.9 3.9l-3.9 3.9l-3.9 -3.9zM310.05 601.07l3.9 3.9l-3.9 3.9l-3.9 -3.9zM310.56 601.12l3.9 3.9l-3.9 3.9l-3.9 -3.9zM311.07 601.18l3.9 3.9l-3.9 3.9l-3.9 -3.9zM311.59 601.24l3.9 3.9l-3.9 3.9l-3.9 -3.9zM312.10 601.29l3.9 3.9l-3.9 3.9l-3.9 -3.9zM312.61 601.35l3.9 3.9l-3.9 3.9l-3.9 -3.9zM313.12 601.40l3.9 3.9l-3.9 3.9l-3.9 -3.9zM313.64 601.46l3.9 3.9l-3.9 3.9l-3.9 -3.9zM314.15 601.50l3.9 3.9l-3.9 3.9l-3.9 -3.9zM314.66 601.50l3.9 3.9l-3.9 3.9l-3.9 -3.9zM315.17 601.50l3.9 3.9l-3.9 3.9l-3.9 -3.9zM315.69 601.50l3.9 3.9l-3.9 3.9l-3.9 -3.9zM316.20 601.50l3.9 3.9l-3.9 3.9l-3.9 -3.9zM316.71 601.50l3.9 3.9l-3.9 3.9l-3.9 -3.9zM317.23 601.50l3.9 3.9l-3.9 3.9l-3.9 -3.9zM317.74 601.50l3.9 3.9l-3.9 3.9l-3.9 -3.9zM318.25 601.50l3.9 3.9l-3.9 3.9l-3.9 -3.9zM318.76 601.50l3.9 3.9l-3.9 3.9l-3.9 -3.9zM319.28 601.50l3.9 3.9l-3.9 3.9l-3.9 -3.9zM319.79 601.50l3.9 3.9l-3.9 3.9l-3.9 -3.9zM320.30 601.50l3.9 3.9l-3.9 3.9l-3.9 -3.9zM320.81 601.50l3.9 3.9l-3.9 3.9l-3.9 -3.9zM321.33 601.50l3.9 3.9l-3.9 3.9l-3.9 -3.9zM321.84 601.50l3.9 3.9l-3.9 3.9l-3.9 -3.9zM322.35 601.50l3.9 3.9l-3.9 3.9l-3.9 -3.9zM322.87 601.50l3.9 3.9l-3.9 3.9l-3.9 -3.9zM323.38 601.50l3.9 3.9l-3.9 3.9l-3.9 -3.9zM323.89 601.50l3.9 3.9l-3.9 3.9l-3.9 -3.9zM324.40 601.50l3.9 3.9l-3.9 3.9l-3.9 -3.9zM324.92 601.50l3.9 3.9l-3.9 3.9l-3.9 -3.9zM325.43 601.50l3.9 3.9l-3.9 3.9l-3.9 -3.9zM325.94 601.50l3.9 3.9l-3.9 3.9l-3.9 -3.9zM326.45 601.50l3.9 3.9l-3.9 3.9l-3.9 -3.9zM326.97 601.50l3.9 3.9l-3.9 3.9l-3.9 -3.9zM327.48 601.50l3.9 3.9l-3.9 3.9l-3.9 -3.9zM327.99 601.50l3.9 3.9l-3.9 3.9l-3.9 -3.9zM328.51 601.50l3.9 3.9l-3.9 3.9l-3.9 -3.9zM329.02 601.50l3.9 3.9l-3.9 3.9l-3.9 -3.9zM329.53 601.50l3.9 3.9l-3.9 3.9l-3.9 -3.9zM330.04 601.50l3.9 3.9l-3.9 3.9l-3.9 -3.9zM330.56 601.50l3.9 3.9l-3.9 3.9l-3.9 -3.9zM331.07 601.50l3.9 3.9l-3.9 3.9l-3.9 -3.9zM331.58 601.50l3.9 3.9l-3.9 3.9l-3.9 -3.9zM332.09 601.50l3.9 3.9l-3.9 3.9l-3.9 -3.9zM332.61 601.50l3.9 3.9l-3.9 3.9l-3.9 -3.9zM333.12 601.50l3.9 3.9l-3.9 3.9l-3.9 -3.9zM333.63 601.50l3.9 3.9l-3.9 3.9l-3.9 -3.9zM334.15 601.50l3.9 3.9l-3.9 3.9l-3.9 -3.9zM334.66 601.50l3.9 3.9l-3.9 3.9l-3.9 -3.9zM335.17 601.50l3.9 3.9l-3.9 3.9l-3.9 -3.9zM335.68 601.50l3.9 3.9l-3.9 3.9l-3.9 -3.9zM336.20 601.50l3.9 3.9l-3.9 3.9l-3.9 -3.9zM336.71 601.50l3.9 3.9l-3.9 3.9l-3.9 -3.9zM337.22 601.50l3.9 3.9l-3.9 3.9l-3.9 -3.9zM337.73 601.50l3.9 3.9l-3.9 3.9l-3.9 -3.9zM338.25 601.50l3.9 3.9l-3.9 3.9l-3.9 -3.9zM338.76 601.50l3.9 3.9l-3.9 3.9l-3.9 -3.9zM339.27 603.00l3.9 3.9l-3.9 3.9l-3.9 -3.9zM339.79 603.00l3.9 3.9l-3.9 3.9l-3.9 -3.9zM340.30 603.00l3.9 3.9l-3.9 3.9l-3.9 -3.9zM340.81 603.00l3.9 3.9l-3.9 3.9l-3.9 -3.9zM341.32 603.00l3.9 3.9l-3.9 3.9l-3.9 -3.9zM341.84 603.00l3.9 3.9l-3.9 3.9l-3.9 -3.9zM342.35 603.00l3.9 3.9l-3.9 3.9l-3.9 -3.9zM342.86 603.00l3.9 3.9l-3.9 3.9l-3.9 -3.9zM343.37 603.00l3.9 3.9l-3.9 3.9l-3.9 -3.9zM343.89 603.00l3.9 3.9l-3.9 3.9l-3.9 -3.9zM344.40 603.00l3.9 3.9l-3.9 3.9l-3.9 -3.9zM344.91 603.00l3.9 3.9l-3.9 3.9l-3.9 -3.9zM345.43 603.00l3.9 3.9l-3.9 3.9l-3.9 -3.9zM345.94 603.00l3.9 3.9l-3.9 3.9l-3.9 -3.9zM346.45 603.00l3.9 3.9l-3.9 3.9l-3.9 -3.9zM346.96 603.00l3.9 3.9l-3.9 3.9l-3.9 -3.9zM347.48 603.00l3.9 3.9l-3.9 3.9l-3.9 -3.9zM347.99 603.00l3.9 3.9l-3.9 3.9l-3.9 -3.9zM348.50 603.00l3.9 3.9l-3.9 3.9l-3.9 -3.9zM349.01 603.00l3.9 3.9l-3.9 3.9l-3.9 -3.9zM349.53 603.00l3.9 3.9l-3.9 3.9l-3.9 -3.9zM350.04 603.00l3.9 3.9l-3.9 3.9l-3.9 -3.9zM350.55 603.00l3.9 3.9l-3.9 3.9l-3.9 -3.9zM351.07 603.00l3.9 3.9l-3.9 3.9l-3.9 -3.9zM351.58 603.00l3.9 3.9l-3.9 3.9l-3.9 -3.9zM352.09 603.00l3.9 3.9l-3.9 3.9l-3.9 -3.9zM352.60 603.00l3.9 3.9l-3.9 3.9l-3.9 -3.9zM353.12 603.00l3.9 3.9l-3.9 3.9l-3.9 -3.9zM353.63 603.00l3.9 3.9l-3.9 3.9l-3.9 -3.9zM354.14 603.00l3.9 3.9l-3.9 3.9l-3.9 -3.9zM354.65 603.00l3.9 3.9l-3.9 3.9l-3.9 -3.9zM355.17 603.00l3.9 3.9l-3.9 3.9l-3.9 -3.9zM355.68 603.00l3.9 3.9l-3.9 3.9l-3.9 -3.9zM356.19 603.00l3.9 3.9l-3.9 3.9l-3.9 -3.9zM356.71 603.00l3.9 3.9l-3.9 3.9l-3.9 -3.9zM357.22 603.00l3.9 3.9l-3.9 3.9l-3.9 -3.9zM357.73 603.00l3.9 3.9l-3.9 3.9l-3.9 -3.9zM358.24 603.00l3.9 3.9l-3.9 3.9l-3.9 -3.9zM358.76 603.00l3.9 3.9l-3.9 3.9l-3.9 -3.9zM359.27 603.00l3.9 3.9l-3.9 3.9l-3.9 -3.9zM359.78 603.00l3.9 3.9l-3.9 3.9l-3.9 -3.9zM360.29 603.00l3.9 3.9l-3.9 3.9l-3.9 -3.9zM360.81 603.00l3.9 3.9l-3.9 3.9l-3.9 -3.9zM361.32 603.00l3.9 3.9l-3.9 3.9l-3.9 -3.9zM361.83 603.00l3.9 3.9l-3.9 3.9l-3.9 -3.9zM362.35 603.00l3.9 3.9l-3.9 3.9l-3.9 -3.9zM362.86 603.00l3.9 3.9l-3.9 3.9l-3.9 -3.9zM363.37 603.00l3.9 3.9l-3.9 3.9l-3.9 -3.9zM363.88 603.00l3.9 3.9l-3.9 3.9l-3.9 -3.9zM364.40 603.00l3.9 3.9l-3.9 3.9l-3.9 -3.9zM364.91 603.00l3.9 3.9l-3.9 3.9l-3.9 -3.9zM365.42 603.00l3.9 3.9l-3.9 3.9l-3.9 -3.9zM365.93 603.00l3.9 3.9l-3.9 3.9l-3.9 -3.9zM366.45 604.30l3.9 3.9l-3.9 3.9l-3.9 -3.9zM366.96 604.30l3.9 3.9l-3.9 3.9l-3.9 -3.9zM367.47 604.30l3.9 3.9l-3.9 3.9l-3.9 -3.9zM367.99 604.30l3.9 3.9l-3.9 3.9l-3.9 -3.9zM368.50 604.30l3.9 3.9l-3.9 3.9l-3.9 -3.9zM369.01 604.30l3.9 3.9l-3.9 3.9l-3.9 -3.9zM369.52 604.30l3.9 3.9l-3.9 3.9l-3.9 -3.9zM370.04 604.30l3.9 3.9l-3.9 3.9l-3.9 -3.9zM370.55 604.30l3.9 3.9l-3.9 3.9l-3.9 -3.9zM371.06 604.30l3.9 3.9l-3.9 3.9l-3.9 -3.9zM371.57 604.30l3.9 3.9l-3.9 3.9l-3.9 -3.9zM372.09 604.30l3.9 3.9l-3.9 3.9l-3.9 -3.9zM372.60 604.30l3.9 3.9l-3.9 3.9l-3.9 -3.9zM373.11 604.30l3.9 3.9l-3.9 3.9l-3.9 -3.9zM373.63 604.30l3.9 3.9l-3.9 3.9l-3.9 -3.9zM374.14 604.30l3.9 3.9l-3.9 3.9l-3.9 -3.9zM374.65 604.30l3.9 3.9l-3.9 3.9l-3.9 -3.9zM375.16 604.30l3.9 3.9l-3.9 3.9l-3.9 -3.9zM375.68 604.30l3.9 3.9l-3.9 3.9l-3.9 -3.9zM376.19 604.30l3.9 3.9l-3.9 3.9l-3.9 -3.9zM376.70 604.30l3.9 3.9l-3.9 3.9l-3.9 -3.9zM377.21 604.30l3.9 3.9l-3.9 3.9l-3.9 -3.9zM377.73 604.30l3.9 3.9l-3.9 3.9l-3.9 -3.9zM378.24 604.30l3.9 3.9l-3.9 3.9l-3.9 -3.9zM378.75 604.30l3.9 3.9l-3.9 3.9l-3.9 -3.9zM379.27 604.30l3.9 3.9l-3.9 3.9l-3.9 -3.9zM379.78 604.30l3.9 3.9l-3.9 3.9l-3.9 -3.9zM380.29 604.30l3.9 3.9l-3.9 3.9l-3.9 -3.9zM380.80 604.30l3.9 3.9l-3.9 3.9l-3.9 -3.9zM381.32 604.30l3.9 3.9l-3.9 3.9l-3.9 -3.9zM381.83 604.30l3.9 3.9l-3.9 3.9l-3.9 -3.9zM382.34 604.30l3.9 3.9l-3.9 3.9l-3.9 -3.9zM382.85 604.30l3.9 3.9l-3.9 3.9l-3.9 -3.9zM383.37 604.30l3.9 3.9l-3.9 3.9l-3.9 -3.9zM383.88 604.30l3.9 3.9l-3.9 3.9l-3.9 -3.9zM384.39 604.30l3.9 3.9l-3.9 3.9l-3.9 -3.9zM384.90 604.30l3.9 3.9l-3.9 3.9l-3.9 -3.9zM385.42 604.30l3.9 3.9l-3.9 3.9l-3.9 -3.9zM385.93 604.30l3.9 3.9l-3.9 3.9l-3.9 -3.9zM386.44 604.30l3.9 3.9l-3.9 3.9l-3.9 -3.9zM386.96 604.30l3.9 3.9l-3.9 3.9l-3.9 -3.9zM387.47 604.30l3.9 3.9l-3.9 3.9l-3.9 -3.9zM387.98 604.30l3.9 3.9l-3.9 3.9l-3.9 -3.9zM388.49 604.30l3.9 3.9l-3.9 3.9l-3.9 -3.9zM389.01 604.30l3.9 3.9l-3.9 3.9l-3.9 -3.9zM389.52 604.30l3.9 3.9l-3.9 3.9l-3.9 -3.9zM390.03 604.30l3.9 3.9l-3.9 3.9l-3.9 -3.9zM390.54 604.30l3.9 3.9l-3.9 3.9l-3.9 -3.9zM391.06 604.30l3.9 3.9l-3.9 3.9l-3.9 -3.9zM391.57 604.30l3.9 3.9l-3.9 3.9l-3.9 -3.9zM392.08 604.30l3.9 3.9l-3.9 3.9l-3.9 -3.9zM392.60 604.30l3.9 3.9l-3.9 3.9l-3.9 -3.9zM393.11 604.30l3.9 3.9l-3.9 3.9l-3.9 -3.9zM393.62 604.30l3.9 3.9l-3.9 3.9l-3.9 -3.9zM394.13 604.30l3.9 3.9l-3.9 3.9l-3.9 -3.9zM394.65 604.30l3.9 3.9l-3.9 3.9l-3.9 -3.9zM395.16 604.30l3.9 3.9l-3.9 3.9l-3.9 -3.9zM395.67 604.30l3.9 3.9l-3.9 3.9l-3.9 -3.9zM396.18 604.30l3.9 3.9l-3.9 3.9l-3.9 -3.9zM396.70 604.30l3.9 3.9l-3.9 3.9l-3.9 -3.9zM397.21 604.30l3.9 3.9l-3.9 3.9l-3.9 -3.9zM397.72 604.30l3.9 3.9l-3.9 3.9l-3.9 -3.9zM398.24 604.30l3.9 3.9l-3.9 3.9l-3.9 -3.9zM398.75 604.30l3.9 3.9l-3.9 3.9l-3.9 -3.9zM399.26 604.30l3.9 3.9l-3.9 3.9l-3.9 -3.9zM399.77 604.30l3.9 3.9l-3.9 3.9l-3.9 -3.9zM400.29 604.30l3.9 3.9l-3.9 3.9l-3.9 -3.9zM400.80 604.30l3.9 3.9l-3.9 3.9l-3.9 -3.9zM401.31 604.30l3.9 3.9l-3.9 3.9l-3.9 -3.9zM401.82 604.30l3.9 3.9l-3.9 3.9l-3.9 -3.9zM402.34 604.30l3.9 3.9l-3.9 3.9l-3.9 -3.9zM402.85 604.30l3.9 3.9l-3.9 3.9l-3.9 -3.9zM403.36 604.30l3.9 3.9l-3.9 3.9l-3.9 -3.9zM403.88 604.30l3.9 3.9l-3.9 3.9l-3.9 -3.9zM404.39 604.30l3.9 3.9l-3.9 3.9l-3.9 -3.9zM404.90 604.30l3.9 3.9l-3.9 3.9l-3.9 -3.9zM405.41 605.30l3.9 3.9l-3.9 3.9l-3.9 -3.9zM405.93 605.30l3.9 3.9l-3.9 3.9l-3.9 -3.9zM406.44 605.30l3.9 3.9l-3.9 3.9l-3.9 -3.9zM406.95 605.30l3.9 3.9l-3.9 3.9l-3.9 -3.9zM407.46 605.30l3.9 3.9l-3.9 3.9l-3.9 -3.9zM407.98 605.30l3.9 3.9l-3.9 3.9l-3.9 -3.9zM408.49 605.30l3.9 3.9l-3.9 3.9l-3.9 -3.9zM409.00 605.30l3.9 3.9l-3.9 3.9l-3.9 -3.9zM409.52 605.30l3.9 3.9l-3.9 3.9l-3.9 -3.9zM410.03 605.30l3.9 3.9l-3.9 3.9l-3.9 -3.9zM410.54 605.30l3.9 3.9l-3.9 3.9l-3.9 -3.9zM411.05 605.30l3.9 3.9l-3.9 3.9l-3.9 -3.9zM411.57 605.30l3.9 3.9l-3.9 3.9l-3.9 -3.9zM412.08 605.30l3.9 3.9l-3.9 3.9l-3.9 -3.9zM412.59 605.30l3.9 3.9l-3.9 3.9l-3.9 -3.9zM413.10 605.30l3.9 3.9l-3.9 3.9l-3.9 -3.9zM413.62 605.30l3.9 3.9l-3.9 3.9l-3.9 -3.9zM414.13 605.30l3.9 3.9l-3.9 3.9l-3.9 -3.9zM414.64 605.30l3.9 3.9l-3.9 3.9l-3.9 -3.9zM415.16 605.30l3.9 3.9l-3.9 3.9l-3.9 -3.9zM415.67 605.30l3.9 3.9l-3.9 3.9l-3.9 -3.9zM416.18 605.30l3.9 3.9l-3.9 3.9l-3.9 -3.9zM416.69 605.30l3.9 3.9l-3.9 3.9l-3.9 -3.9zM417.21 605.30l3.9 3.9l-3.9 3.9l-3.9 -3.9zM417.72 605.30l3.9 3.9l-3.9 3.9l-3.9 -3.9zM418.23 605.30l3.9 3.9l-3.9 3.9l-3.9 -3.9zM418.74 605.30l3.9 3.9l-3.9 3.9l-3.9 -3.9zM419.26 605.30l3.9 3.9l-3.9 3.9l-3.9 -3.9zM419.77 605.30l3.9 3.9l-3.9 3.9l-3.9 -3.9zM420.28 605.30l3.9 3.9l-3.9 3.9l-3.9 -3.9zM420.80 605.30l3.9 3.9l-3.9 3.9l-3.9 -3.9zM421.31 605.30l3.9 3.9l-3.9 3.9l-3.9 -3.9zM421.82 605.30l3.9 3.9l-3.9 3.9l-3.9 -3.9zM422.33 605.30l3.9 3.9l-3.9 3.9l-3.9 -3.9zM422.85 605.30l3.9 3.9l-3.9 3.9l-3.9 -3.9zM423.36 605.30l3.9 3.9l-3.9 3.9l-3.9 -3.9zM423.87 605.30l3.9 3.9l-3.9 3.9l-3.9 -3.9zM424.38 605.30l3.9 3.9l-3.9 3.9l-3.9 -3.9zM424.90 605.30l3.9 3.9l-3.9 3.9l-3.9 -3.9zM425.41 605.30l3.9 3.9l-3.9 3.9l-3.9 -3.9zM425.92 605.30l3.9 3.9l-3.9 3.9l-3.9 -3.9zM426.44 605.30l3.9 3.9l-3.9 3.9l-3.9 -3.9zM426.95 605.30l3.9 3.9l-3.9 3.9l-3.9 -3.9zM427.46 605.30l3.9 3.9l-3.9 3.9l-3.9 -3.9zM427.97 605.30l3.9 3.9l-3.9 3.9l-3.9 -3.9zM428.49 605.30l3.9 3.9l-3.9 3.9l-3.9 -3.9zM429.00 605.30l3.9 3.9l-3.9 3.9l-3.9 -3.9zM429.51 605.30l3.9 3.9l-3.9 3.9l-3.9 -3.9zM430.02 605.30l3.9 3.9l-3.9 3.9l-3.9 -3.9zM430.54 605.30l3.9 3.9l-3.9 3.9l-3.9 -3.9zM431.05 605.30l3.9 3.9l-3.9 3.9l-3.9 -3.9zM431.56 605.30l3.9 3.9l-3.9 3.9l-3.9 -3.9zM432.08 605.30l3.9 3.9l-3.9 3.9l-3.9 -3.9zM432.59 605.30l3.9 3.9l-3.9 3.9l-3.9 -3.9zM433.10 605.30l3.9 3.9l-3.9 3.9l-3.9 -3.9zM433.61 605.30l3.9 3.9l-3.9 3.9l-3.9 -3.9zM434.13 605.30l3.9 3.9l-3.9 3.9l-3.9 -3.9zM434.64 605.30l3.9 3.9l-3.9 3.9l-3.9 -3.9zM435.15 605.30l3.9 3.9l-3.9 3.9l-3.9 -3.9zM435.66 605.30l3.9 3.9l-3.9 3.9l-3.9 -3.9zM436.18 605.30l3.9 3.9l-3.9 3.9l-3.9 -3.9zM436.69 605.30l3.9 3.9l-3.9 3.9l-3.9 -3.9zM437.20 605.30l3.9 3.9l-3.9 3.9l-3.9 -3.9zM437.72 605.30l3.9 3.9l-3.9 3.9l-3.9 -3.9zM438.23 605.30l3.9 3.9l-3.9 3.9l-3.9 -3.9zM438.74 605.30l3.9 3.9l-3.9 3.9l-3.9 -3.9zM439.25 605.30l3.9 3.9l-3.9 3.9l-3.9 -3.9zM439.77 605.30l3.9 3.9l-3.9 3.9l-3.9 -3.9zM440.28 605.30l3.9 3.9l-3.9 3.9l-3.9 -3.9zM440.79 605.30l3.9 3.9l-3.9 3.9l-3.9 -3.9zM441.30 605.30l3.9 3.9l-3.9 3.9l-3.9 -3.9zM441.82 605.30l3.9 3.9l-3.9 3.9l-3.9 -3.9zM442.33 605.30l3.9 3.9l-3.9 3.9l-3.9 -3.9zM442.84 605.30l3.9 3.9l-3.9 3.9l-3.9 -3.9zM443.36 605.30l3.9 3.9l-3.9 3.9l-3.9 -3.9zM443.87 605.30l3.9 3.9l-3.9 3.9l-3.9 -3.9zM444.38 605.30l3.9 3.9l-3.9 3.9l-3.9 -3.9zM444.89 605.30l3.9 3.9l-3.9 3.9l-3.9 -3.9zM445.41 605.30l3.9 3.9l-3.9 3.9l-3.9 -3.9zM445.92 605.30l3.9 3.9l-3.9 3.9l-3.9 -3.9zM446.43 605.30l3.9 3.9l-3.9 3.9l-3.9 -3.9zM446.94 605.30l3.9 3.9l-3.9 3.9l-3.9 -3.9zM447.46 605.30l3.9 3.9l-3.9 3.9l-3.9 -3.9zM447.97 605.30l3.9 3.9l-3.9 3.9l-3.9 -3.9zM448.48 605.30l3.9 3.9l-3.9 3.9l-3.9 -3.9zM449.00 605.30l3.9 3.9l-3.9 3.9l-3.9 -3.9zM449.51 606.10l3.9 3.9l-3.9 3.9l-3.9 -3.9zM450.02 606.10l3.9 3.9l-3.9 3.9l-3.9 -3.9zM450.53 606.10l3.9 3.9l-3.9 3.9l-3.9 -3.9zM451.05 606.10l3.9 3.9l-3.9 3.9l-3.9 -3.9zM451.56 606.10l3.9 3.9l-3.9 3.9l-3.9 -3.9zM452.07 606.10l3.9 3.9l-3.9 3.9l-3.9 -3.9zM452.58 606.10l3.9 3.9l-3.9 3.9l-3.9 -3.9zM453.10 606.10l3.9 3.9l-3.9 3.9l-3.9 -3.9zM453.61 606.10l3.9 3.9l-3.9 3.9l-3.9 -3.9zM454.12 606.10l3.9 3.9l-3.9 3.9l-3.9 -3.9zM454.64 606.10l3.9 3.9l-3.9 3.9l-3.9 -3.9zM455.15 606.10l3.9 3.9l-3.9 3.9l-3.9 -3.9zM455.66 606.10l3.9 3.9l-3.9 3.9l-3.9 -3.9zM456.17 606.10l3.9 3.9l-3.9 3.9l-3.9 -3.9zM456.69 606.10l3.9 3.9l-3.9 3.9l-3.9 -3.9zM457.20 606.10l3.9 3.9l-3.9 3.9l-3.9 -3.9zM457.71 606.10l3.9 3.9l-3.9 3.9l-3.9 -3.9zM458.22 606.10l3.9 3.9l-3.9 3.9l-3.9 -3.9zM458.74 606.10l3.9 3.9l-3.9 3.9l-3.9 -3.9zM459.25 606.10l3.9 3.9l-3.9 3.9l-3.9 -3.9zM459.76 606.10l3.9 3.9l-3.9 3.9l-3.9 -3.9zM460.28 606.10l3.9 3.9l-3.9 3.9l-3.9 -3.9zM460.79 606.10l3.9 3.9l-3.9 3.9l-3.9 -3.9zM461.30 606.10l3.9 3.9l-3.9 3.9l-3.9 -3.9zM461.81 606.10l3.9 3.9l-3.9 3.9l-3.9 -3.9zM462.33 606.10l3.9 3.9l-3.9 3.9l-3.9 -3.9zM462.84 606.10l3.9 3.9l-3.9 3.9l-3.9 -3.9zM463.35 606.10l3.9 3.9l-3.9 3.9l-3.9 -3.9zM463.86 606.10l3.9 3.9l-3.9 3.9l-3.9 -3.9zM464.38 606.10l3.9 3.9l-3.9 3.9l-3.9 -3.9zM464.89 606.10l3.9 3.9l-3.9 3.9l-3.9 -3.9zM465.40 606.10l3.9 3.9l-3.9 3.9l-3.9 -3.9zM465.92 606.10l3.9 3.9l-3.9 3.9l-3.9 -3.9zM466.43 606.10l3.9 3.9l-3.9 3.9l-3.9 -3.9zM466.94 606.10l3.9 3.9l-3.9 3.9l-3.9 -3.9zM467.45 606.10l3.9 3.9l-3.9 3.9l-3.9 -3.9zM467.97 606.10l3.9 3.9l-3.9 3.9l-3.9 -3.9zM468.48 606.10l3.9 3.9l-3.9 3.9l-3.9 -3.9zM468.99 606.10l3.9 3.9l-3.9 3.9l-3.9 -3.9zM469.50 606.10l3.9 3.9l-3.9 3.9l-3.9 -3.9zM470.02 606.10l3.9 3.9l-3.9 3.9l-3.9 -3.9zM470.53 606.10l3.9 3.9l-3.9 3.9l-3.9 -3.9zM471.04 606.10l3.9 3.9l-3.9 3.9l-3.9 -3.9zM471.56 606.10l3.9 3.9l-3.9 3.9l-3.9 -3.9zM472.07 606.10l3.9 3.9l-3.9 3.9l-3.9 -3.9zM472.58 606.10l3.9 3.9l-3.9 3.9l-3.9 -3.9zM473.09 606.10l3.9 3.9l-3.9 3.9l-3.9 -3.9zM473.61 606.10l3.9 3.9l-3.9 3.9l-3.9 -3.9zM474.12 606.10l3.9 3.9l-3.9 3.9l-3.9 -3.9zM474.63 606.10l3.9 3.9l-3.9 3.9l-3.9 -3.9zM475.14 606.10l3.9 3.9l-3.9 3.9l-3.9 -3.9zM475.66 606.10l3.9 3.9l-3.9 3.9l-3.9 -3.9zM476.17 606.10l3.9 3.9l-3.9 3.9l-3.9 -3.9zM476.68 606.10l3.9 3.9l-3.9 3.9l-3.9 -3.9zM477.19 606.10l3.9 3.9l-3.9 3.9l-3.9 -3.9zM477.71 606.10l3.9 3.9l-3.9 3.9l-3.9 -3.9zM478.22 606.10l3.9 3.9l-3.9 3.9l-3.9 -3.9zM478.73 606.10l3.9 3.9l-3.9 3.9l-3.9 -3.9zM479.25 606.10l3.9 3.9l-3.9 3.9l-3.9 -3.9zM479.76 606.10l3.9 3.9l-3.9 3.9l-3.9 -3.9zM480.27 606.10l3.9 3.9l-3.9 3.9l-3.9 -3.9zM480.78 606.10l3.9 3.9l-3.9 3.9l-3.9 -3.9zM481.30 606.10l3.9 3.9l-3.9 3.9l-3.9 -3.9zM481.81 606.10l3.9 3.9l-3.9 3.9l-3.9 -3.9zM482.32 606.10l3.9 3.9l-3.9 3.9l-3.9 -3.9zM482.83 606.10l3.9 3.9l-3.9 3.9l-3.9 -3.9zM483.35 606.10l3.9 3.9l-3.9 3.9l-3.9 -3.9zM483.86 606.10l3.9 3.9l-3.9 3.9l-3.9 -3.9zM484.37 606.10l3.9 3.9l-3.9 3.9l-3.9 -3.9zM484.89 606.10l3.9 3.9l-3.9 3.9l-3.9 -3.9zM485.40 606.10l3.9 3.9l-3.9 3.9l-3.9 -3.9zM485.91 606.10l3.9 3.9l-3.9 3.9l-3.9 -3.9zM486.42 606.10l3.9 3.9l-3.9 3.9l-3.9 -3.9zM486.94 606.10l3.9 3.9l-3.9 3.9l-3.9 -3.9zM487.45 606.10l3.9 3.9l-3.9 3.9l-3.9 -3.9zM487.96 606.10l3.9 3.9l-3.9 3.9l-3.9 -3.9zM488.47 606.10l3.9 3.9l-3.9 3.9l-3.9 -3.9zM488.99 606.10l3.9 3.9l-3.9 3.9l-3.9 -3.9zM489.50 606.10l3.9 3.9l-3.9 3.9l-3.9 -3.9zM490.01 606.10l3.9 3.9l-3.9 3.9l-3.9 -3.9zM490.53 606.10l3.9 3.9l-3.9 3.9l-3.9 -3.9zM491.04 606.10l3.9 3.9l-3.9 3.9l-3.9 -3.9zM491.55 606.10l3.9 3.9l-3.9 3.9l-3.9 -3.9zM492.06 606.10l3.9 3.9l-3.9 3.9l-3.9 -3.9zM492.58 606.10l3.9 3.9l-3.9 3.9l-3.9 -3.9zM493.09 606.10l3.9 3.9l-3.9 3.9l-3.9 -3.9zM493.60 606.10l3.9 3.9l-3.9 3.9l-3.9 -3.9zM494.11 606.10l3.9 3.9l-3.9 3.9l-3.9 -3.9zM494.63 606.10l3.9 3.9l-3.9 3.9l-3.9 -3.9zM495.14 606.10l3.9 3.9l-3.9 3.9l-3.9 -3.9zM495.65 606.10l3.9 3.9l-3.9 3.9l-3.9 -3.9zM496.17 606.10l3.9 3.9l-3.9 3.9l-3.9 -3.9zM496.68 606.10l3.9 3.9l-3.9 3.9l-3.9 -3.9zM497.19 606.80l3.9 3.9l-3.9 3.9l-3.9 -3.9zM497.70 606.80l3.9 3.9l-3.9 3.9l-3.9 -3.9zM498.22 606.80l3.9 3.9l-3.9 3.9l-3.9 -3.9zM498.73 606.80l3.9 3.9l-3.9 3.9l-3.9 -3.9zM499.24 606.80l3.9 3.9l-3.9 3.9l-3.9 -3.9zM499.75 606.80l3.9 3.9l-3.9 3.9l-3.9 -3.9zM500.27 606.80l3.9 3.9l-3.9 3.9l-3.9 -3.9zM500.78 606.80l3.9 3.9l-3.9 3.9l-3.9 -3.9zM501.29 606.80l3.9 3.9l-3.9 3.9l-3.9 -3.9zM501.81 606.80l3.9 3.9l-3.9 3.9l-3.9 -3.9zM502.32 606.80l3.9 3.9l-3.9 3.9l-3.9 -3.9zM502.83 606.80l3.9 3.9l-3.9 3.9l-3.9 -3.9zM503.34 606.80l3.9 3.9l-3.9 3.9l-3.9 -3.9zM503.86 606.80l3.9 3.9l-3.9 3.9l-3.9 -3.9zM504.37 606.80l3.9 3.9l-3.9 3.9l-3.9 -3.9zM504.88 606.80l3.9 3.9l-3.9 3.9l-3.9 -3.9zM505.39 606.80l3.9 3.9l-3.9 3.9l-3.9 -3.9zM505.91 606.80l3.9 3.9l-3.9 3.9l-3.9 -3.9zM506.42 606.80l3.9 3.9l-3.9 3.9l-3.9 -3.9zM506.93 606.80l3.9 3.9l-3.9 3.9l-3.9 -3.9zM507.45 606.80l3.9 3.9l-3.9 3.9l-3.9 -3.9zM507.96 606.80l3.9 3.9l-3.9 3.9l-3.9 -3.9zM508.47 606.80l3.9 3.9l-3.9 3.9l-3.9 -3.9zM508.98 606.80l3.9 3.9l-3.9 3.9l-3.9 -3.9zM509.50 606.80l3.9 3.9l-3.9 3.9l-3.9 -3.9zM510.01 606.80l3.9 3.9l-3.9 3.9l-3.9 -3.9zM84.45 502.56l3.9 3.9l-3.9 3.9l-3.9 -3.9zM84.45 502.83l3.9 3.9l-3.9 3.9l-3.9 -3.9zM84.96 503.44l3.9 3.9l-3.9 3.9l-3.9 -3.9zM84.96 504.01l3.9 3.9l-3.9 3.9l-3.9 -3.9zM85.48 504.43l3.9 3.9l-3.9 3.9l-3.9 -3.9zM85.48 505.32l3.9 3.9l-3.9 3.9l-3.9 -3.9zM85.99 505.54l3.9 3.9l-3.9 3.9l-3.9 -3.9zM85.99 506.73l3.9 3.9l-3.9 3.9l-3.9 -3.9zM86.50 506.64l3.9 3.9l-3.9 3.9l-3.9 -3.9zM86.50 508.14l3.9 3.9l-3.9 3.9l-3.9 -3.9zM87.01 507.74l3.9 3.9l-3.9 3.9l-3.9 -3.9zM87.01 509.55l3.9 3.9l-3.9 3.9l-3.9 -3.9zM87.53 508.84l3.9 3.9l-3.9 3.9l-3.9 -3.9zM87.53 510.96l3.9 3.9l-3.9 3.9l-3.9 -3.9zM88.04 509.95l3.9 3.9l-3.9 3.9l-3.9 -3.9zM88.04 512.37l3.9 3.9l-3.9 3.9l-3.9 -3.9zM88.55 511.28l3.9 3.9l-3.9 3.9l-3.9 -3.9zM88.55 514.01l3.9 3.9l-3.9 3.9l-3.9 -3.9zM89.06 512.84l3.9 3.9l-3.9 3.9l-3.9 -3.9zM89.06 515.88l3.9 3.9l-3.9 3.9l-3.9 -3.9zM89.58 514.40l3.9 3.9l-3.9 3.9l-3.9 -3.9zM89.58 517.75l3.9 3.9l-3.9 3.9l-3.9 -3.9zM90.09 515.99l3.9 3.9l-3.9 3.9l-3.9 -3.9zM90.09 519.59l3.9 3.9l-3.9 3.9l-3.9 -3.9zM90.60 517.71l3.9 3.9l-3.9 3.9l-3.9 -3.9zM90.60 521.31l3.9 3.9l-3.9 3.9l-3.9 -3.9zM91.12 519.52l3.9 3.9l-3.9 3.9l-3.9 -3.9zM91.12 523.12l3.9 3.9l-3.9 3.9l-3.9 -3.9zM91.63 521.34l3.9 3.9l-3.9 3.9l-3.9 -3.9zM91.63 524.94l3.9 3.9l-3.9 3.9l-3.9 -3.9zM92.14 523.16l3.9 3.9l-3.9 3.9l-3.9 -3.9zM92.14 526.76l3.9 3.9l-3.9 3.9l-3.9 -3.9zM92.65 524.97l3.9 3.9l-3.9 3.9l-3.9 -3.9zM92.65 528.57l3.9 3.9l-3.9 3.9l-3.9 -3.9zM93.17 526.42l3.9 3.9l-3.9 3.9l-3.9 -3.9zM93.17 530.02l3.9 3.9l-3.9 3.9l-3.9 -3.9zM93.68 527.11l3.9 3.9l-3.9 3.9l-3.9 -3.9zM93.68 530.71l3.9 3.9l-3.9 3.9l-3.9 -3.9zM94.19 527.80l3.9 3.9l-3.9 3.9l-3.9 -3.9zM94.19 531.40l3.9 3.9l-3.9 3.9l-3.9 -3.9zM94.70 528.49l3.9 3.9l-3.9 3.9l-3.9 -3.9zM94.70 532.09l3.9 3.9l-3.9 3.9l-3.9 -3.9zM95.22 529.18l3.9 3.9l-3.9 3.9l-3.9 -3.9zM95.22 532.78l3.9 3.9l-3.9 3.9l-3.9 -3.9zM95.73 529.86l3.9 3.9l-3.9 3.9l-3.9 -3.9zM95.73 533.46l3.9 3.9l-3.9 3.9l-3.9 -3.9zM96.24 530.55l3.9 3.9l-3.9 3.9l-3.9 -3.9zM96.24 534.15l3.9 3.9l-3.9 3.9l-3.9 -3.9zM96.76 531.24l3.9 3.9l-3.9 3.9l-3.9 -3.9zM96.76 534.84l3.9 3.9l-3.9 3.9l-3.9 -3.9zM97.27 531.77l3.9 3.9l-3.9 3.9l-3.9 -3.9zM97.27 535.37l3.9 3.9l-3.9 3.9l-3.9 -3.9zM97.78 532.28l3.9 3.9l-3.9 3.9l-3.9 -3.9zM97.78 535.88l3.9 3.9l-3.9 3.9l-3.9 -3.9zM98.29 532.79l3.9 3.9l-3.9 3.9l-3.9 -3.9zM98.29 536.39l3.9 3.9l-3.9 3.9l-3.9 -3.9zM98.81 533.31l3.9 3.9l-3.9 3.9l-3.9 -3.9zM98.81 536.91l3.9 3.9l-3.9 3.9l-3.9 -3.9zM99.32 533.82l3.9 3.9l-3.9 3.9l-3.9 -3.9zM99.32 537.42l3.9 3.9l-3.9 3.9l-3.9 -3.9zM99.83 534.33l3.9 3.9l-3.9 3.9l-3.9 -3.9zM99.83 537.93l3.9 3.9l-3.9 3.9l-3.9 -3.9zM100.34 534.84l3.9 3.9l-3.9 3.9l-3.9 -3.9zM100.34 538.44l3.9 3.9l-3.9 3.9l-3.9 -3.9zM100.86 535.36l3.9 3.9l-3.9 3.9l-3.9 -3.9zM100.86 538.96l3.9 3.9l-3.9 3.9l-3.9 -3.9zM101.37 535.87l3.9 3.9l-3.9 3.9l-3.9 -3.9zM101.37 539.47l3.9 3.9l-3.9 3.9l-3.9 -3.9zM101.88 536.39l3.9 3.9l-3.9 3.9l-3.9 -3.9zM101.88 539.99l3.9 3.9l-3.9 3.9l-3.9 -3.9zM102.40 536.91l3.9 3.9l-3.9 3.9l-3.9 -3.9zM102.40 540.51l3.9 3.9l-3.9 3.9l-3.9 -3.9zM102.91 537.44l3.9 3.9l-3.9 3.9l-3.9 -3.9zM102.91 541.04l3.9 3.9l-3.9 3.9l-3.9 -3.9zM103.42 537.97l3.9 3.9l-3.9 3.9l-3.9 -3.9zM103.42 541.57l3.9 3.9l-3.9 3.9l-3.9 -3.9zM103.93 538.50l3.9 3.9l-3.9 3.9l-3.9 -3.9zM103.93 542.10l3.9 3.9l-3.9 3.9l-3.9 -3.9zM104.45 539.03l3.9 3.9l-3.9 3.9l-3.9 -3.9zM104.45 542.63l3.9 3.9l-3.9 3.9l-3.9 -3.9zM104.96 539.54l3.9 3.9l-3.9 3.9l-3.9 -3.9zM104.96 543.14l3.9 3.9l-3.9 3.9l-3.9 -3.9zM105.47 540.00l3.9 3.9l-3.9 3.9l-3.9 -3.9zM105.47 543.60l3.9 3.9l-3.9 3.9l-3.9 -3.9zM105.98 540.46l3.9 3.9l-3.9 3.9l-3.9 -3.9zM105.98 544.06l3.9 3.9l-3.9 3.9l-3.9 -3.9zM106.50 540.92l3.9 3.9l-3.9 3.9l-3.9 -3.9zM106.50 544.52l3.9 3.9l-3.9 3.9l-3.9 -3.9zM107.01 541.38l3.9 3.9l-3.9 3.9l-3.9 -3.9zM107.01 544.98l3.9 3.9l-3.9 3.9l-3.9 -3.9zM107.52 541.84l3.9 3.9l-3.9 3.9l-3.9 -3.9zM107.52 545.44l3.9 3.9l-3.9 3.9l-3.9 -3.9zM108.03 542.30l3.9 3.9l-3.9 3.9l-3.9 -3.9zM108.03 545.90l3.9 3.9l-3.9 3.9l-3.9 -3.9zM108.55 542.76l3.9 3.9l-3.9 3.9l-3.9 -3.9zM108.55 546.36l3.9 3.9l-3.9 3.9l-3.9 -3.9zM109.06 543.22l3.9 3.9l-3.9 3.9l-3.9 -3.9zM109.06 546.82l3.9 3.9l-3.9 3.9l-3.9 -3.9zM109.57 543.68l3.9 3.9l-3.9 3.9l-3.9 -3.9zM109.57 547.28l3.9 3.9l-3.9 3.9l-3.9 -3.9zM110.09 544.14l3.9 3.9l-3.9 3.9l-3.9 -3.9zM110.09 547.74l3.9 3.9l-3.9 3.9l-3.9 -3.9zM110.60 544.60l3.9 3.9l-3.9 3.9l-3.9 -3.9zM110.60 548.20l3.9 3.9l-3.9 3.9l-3.9 -3.9zM111.11 545.07l3.9 3.9l-3.9 3.9l-3.9 -3.9zM111.11 548.67l3.9 3.9l-3.9 3.9l-3.9 -3.9zM111.62 545.53l3.9 3.9l-3.9 3.9l-3.9 -3.9zM111.62 549.13l3.9 3.9l-3.9 3.9l-3.9 -3.9zM112.14 546.00l3.9 3.9l-3.9 3.9l-3.9 -3.9zM112.14 549.60l3.9 3.9l-3.9 3.9l-3.9 -3.9zM112.65 546.46l3.9 3.9l-3.9 3.9l-3.9 -3.9zM112.65 550.06l3.9 3.9l-3.9 3.9l-3.9 -3.9zM113.16 546.93l3.9 3.9l-3.9 3.9l-3.9 -3.9zM113.16 550.53l3.9 3.9l-3.9 3.9l-3.9 -3.9zM113.67 547.39l3.9 3.9l-3.9 3.9l-3.9 -3.9zM113.67 550.99l3.9 3.9l-3.9 3.9l-3.9 -3.9zM114.19 547.86l3.9 3.9l-3.9 3.9l-3.9 -3.9zM114.19 551.46l3.9 3.9l-3.9 3.9l-3.9 -3.9zM114.70 548.38l3.9 3.9l-3.9 3.9l-3.9 -3.9zM114.70 551.98l3.9 3.9l-3.9 3.9l-3.9 -3.9zM115.21 548.94l3.9 3.9l-3.9 3.9l-3.9 -3.9zM115.21 552.54l3.9 3.9l-3.9 3.9l-3.9 -3.9zM115.73 549.50l3.9 3.9l-3.9 3.9l-3.9 -3.9zM115.73 553.10l3.9 3.9l-3.9 3.9l-3.9 -3.9zM116.24 550.06l3.9 3.9l-3.9 3.9l-3.9 -3.9zM116.24 553.66l3.9 3.9l-3.9 3.9l-3.9 -3.9zM116.75 550.62l3.9 3.9l-3.9 3.9l-3.9 -3.9zM116.75 554.22l3.9 3.9l-3.9 3.9l-3.9 -3.9zM117.26 551.18l3.9 3.9l-3.9 3.9l-3.9 -3.9zM117.26 554.78l3.9 3.9l-3.9 3.9l-3.9 -3.9zM117.78 551.74l3.9 3.9l-3.9 3.9l-3.9 -3.9zM117.78 555.34l3.9 3.9l-3.9 3.9l-3.9 -3.9zM118.29 552.30l3.9 3.9l-3.9 3.9l-3.9 -3.9zM118.29 555.90l3.9 3.9l-3.9 3.9l-3.9 -3.9zM118.80 552.86l3.9 3.9l-3.9 3.9l-3.9 -3.9zM118.80 556.46l3.9 3.9l-3.9 3.9l-3.9 -3.9zM119.31 553.41l3.9 3.9l-3.9 3.9l-3.9 -3.9zM119.31 557.01l3.9 3.9l-3.9 3.9l-3.9 -3.9zM119.83 553.93l3.9 3.9l-3.9 3.9l-3.9 -3.9zM119.83 557.53l3.9 3.9l-3.9 3.9l-3.9 -3.9zM120.34 554.44l3.9 3.9l-3.9 3.9l-3.9 -3.9zM120.34 558.04l3.9 3.9l-3.9 3.9l-3.9 -3.9zM120.85 554.95l3.9 3.9l-3.9 3.9l-3.9 -3.9zM120.85 558.55l3.9 3.9l-3.9 3.9l-3.9 -3.9zM121.37 555.47l3.9 3.9l-3.9 3.9l-3.9 -3.9zM121.37 559.07l3.9 3.9l-3.9 3.9l-3.9 -3.9zM121.88 555.98l3.9 3.9l-3.9 3.9l-3.9 -3.9zM121.88 559.58l3.9 3.9l-3.9 3.9l-3.9 -3.9zM122.39 556.49l3.9 3.9l-3.9 3.9l-3.9 -3.9zM122.39 560.09l3.9 3.9l-3.9 3.9l-3.9 -3.9zM122.90 557.00l3.9 3.9l-3.9 3.9l-3.9 -3.9zM122.90 560.60l3.9 3.9l-3.9 3.9l-3.9 -3.9zM123.42 557.52l3.9 3.9l-3.9 3.9l-3.9 -3.9zM123.42 561.12l3.9 3.9l-3.9 3.9l-3.9 -3.9zM123.93 558.03l3.9 3.9l-3.9 3.9l-3.9 -3.9zM123.93 561.63l3.9 3.9l-3.9 3.9l-3.9 -3.9zM124.44 558.28l3.9 3.9l-3.9 3.9l-3.9 -3.9zM124.44 561.88l3.9 3.9l-3.9 3.9l-3.9 -3.9zM124.95 558.50l3.9 3.9l-3.9 3.9l-3.9 -3.9zM124.95 562.10l3.9 3.9l-3.9 3.9l-3.9 -3.9zM125.47 558.73l3.9 3.9l-3.9 3.9l-3.9 -3.9zM125.47 562.30l3.9 3.9l-3.9 3.9l-3.9 -3.9zM125.98 558.96l3.9 3.9l-3.9 3.9l-3.9 -3.9zM125.98 562.49l3.9 3.9l-3.9 3.9l-3.9 -3.9zM126.49 559.19l3.9 3.9l-3.9 3.9l-3.9 -3.9zM126.49 562.69l3.9 3.9l-3.9 3.9l-3.9 -3.9zM127.01 559.42l3.9 3.9l-3.9 3.9l-3.9 -3.9zM127.01 562.89l3.9 3.9l-3.9 3.9l-3.9 -3.9zM127.52 559.65l3.9 3.9l-3.9 3.9l-3.9 -3.9zM127.52 563.09l3.9 3.9l-3.9 3.9l-3.9 -3.9zM128.03 559.88l3.9 3.9l-3.9 3.9l-3.9 -3.9zM128.03 563.28l3.9 3.9l-3.9 3.9l-3.9 -3.9zM128.54 560.11l3.9 3.9l-3.9 3.9l-3.9 -3.9zM128.54 563.48l3.9 3.9l-3.9 3.9l-3.9 -3.9zM129.06 560.38l3.9 3.9l-3.9 3.9l-3.9 -3.9zM129.06 563.72l3.9 3.9l-3.9 3.9l-3.9 -3.9zM129.57 560.70l3.9 3.9l-3.9 3.9l-3.9 -3.9zM129.57 564.01l3.9 3.9l-3.9 3.9l-3.9 -3.9zM130.08 561.02l3.9 3.9l-3.9 3.9l-3.9 -3.9zM130.08 564.30l3.9 3.9l-3.9 3.9l-3.9 -3.9zM130.59 561.34l3.9 3.9l-3.9 3.9l-3.9 -3.9zM130.59 564.58l3.9 3.9l-3.9 3.9l-3.9 -3.9zM131.11 561.66l3.9 3.9l-3.9 3.9l-3.9 -3.9zM131.11 564.87l3.9 3.9l-3.9 3.9l-3.9 -3.9zM131.62 561.98l3.9 3.9l-3.9 3.9l-3.9 -3.9zM131.62 565.16l3.9 3.9l-3.9 3.9l-3.9 -3.9zM132.13 562.30l3.9 3.9l-3.9 3.9l-3.9 -3.9zM132.13 565.44l3.9 3.9l-3.9 3.9l-3.9 -3.9zM132.65 562.62l3.9 3.9l-3.9 3.9l-3.9 -3.9zM132.65 565.73l3.9 3.9l-3.9 3.9l-3.9 -3.9zM133.16 562.94l3.9 3.9l-3.9 3.9l-3.9 -3.9zM133.16 566.02l3.9 3.9l-3.9 3.9l-3.9 -3.9zM133.67 563.26l3.9 3.9l-3.9 3.9l-3.9 -3.9zM133.67 566.31l3.9 3.9l-3.9 3.9l-3.9 -3.9zM134.18 563.63l3.9 3.9l-3.9 3.9l-3.9 -3.9zM134.18 566.64l3.9 3.9l-3.9 3.9l-3.9 -3.9zM134.70 564.00l3.9 3.9l-3.9 3.9l-3.9 -3.9zM134.70 566.97l3.9 3.9l-3.9 3.9l-3.9 -3.9zM135.21 564.36l3.9 3.9l-3.9 3.9l-3.9 -3.9zM135.21 567.31l3.9 3.9l-3.9 3.9l-3.9 -3.9zM135.72 564.73l3.9 3.9l-3.9 3.9l-3.9 -3.9zM135.72 567.65l3.9 3.9l-3.9 3.9l-3.9 -3.9zM136.23 565.10l3.9 3.9l-3.9 3.9l-3.9 -3.9zM136.23 567.98l3.9 3.9l-3.9 3.9l-3.9 -3.9zM136.75 565.47l3.9 3.9l-3.9 3.9l-3.9 -3.9zM136.75 568.32l3.9 3.9l-3.9 3.9l-3.9 -3.9zM137.26 565.84l3.9 3.9l-3.9 3.9l-3.9 -3.9zM137.26 568.66l3.9 3.9l-3.9 3.9l-3.9 -3.9zM137.77 566.21l3.9 3.9l-3.9 3.9l-3.9 -3.9zM137.77 568.99l3.9 3.9l-3.9 3.9l-3.9 -3.9zM138.29 566.58l3.9 3.9l-3.9 3.9l-3.9 -3.9zM138.29 569.33l3.9 3.9l-3.9 3.9l-3.9 -3.9zM138.80 566.94l3.9 3.9l-3.9 3.9l-3.9 -3.9zM138.80 569.66l3.9 3.9l-3.9 3.9l-3.9 -3.9zM139.31 567.30l3.9 3.9l-3.9 3.9l-3.9 -3.9zM139.31 569.98l3.9 3.9l-3.9 3.9l-3.9 -3.9zM139.82 567.66l3.9 3.9l-3.9 3.9l-3.9 -3.9zM139.82 570.31l3.9 3.9l-3.9 3.9l-3.9 -3.9zM140.34 568.02l3.9 3.9l-3.9 3.9l-3.9 -3.9zM140.34 570.63l3.9 3.9l-3.9 3.9l-3.9 -3.9zM140.85 568.37l3.9 3.9l-3.9 3.9l-3.9 -3.9zM140.85 570.96l3.9 3.9l-3.9 3.9l-3.9 -3.9zM141.36 568.73l3.9 3.9l-3.9 3.9l-3.9 -3.9zM141.36 571.28l3.9 3.9l-3.9 3.9l-3.9 -3.9zM141.87 569.09l3.9 3.9l-3.9 3.9l-3.9 -3.9zM141.87 571.61l3.9 3.9l-3.9 3.9l-3.9 -3.9zM142.39 569.45l3.9 3.9l-3.9 3.9l-3.9 -3.9zM142.39 571.94l3.9 3.9l-3.9 3.9l-3.9 -3.9zM142.90 569.81l3.9 3.9l-3.9 3.9l-3.9 -3.9zM142.90 572.26l3.9 3.9l-3.9 3.9l-3.9 -3.9zM143.41 570.15l3.9 3.9l-3.9 3.9l-3.9 -3.9zM143.41 572.57l3.9 3.9l-3.9 3.9l-3.9 -3.9zM143.93 570.43l3.9 3.9l-3.9 3.9l-3.9 -3.9zM143.93 572.81l3.9 3.9l-3.9 3.9l-3.9 -3.9zM144.44 570.70l3.9 3.9l-3.9 3.9l-3.9 -3.9zM144.44 573.06l3.9 3.9l-3.9 3.9l-3.9 -3.9zM144.95 570.98l3.9 3.9l-3.9 3.9l-3.9 -3.9zM144.95 573.30l3.9 3.9l-3.9 3.9l-3.9 -3.9zM145.46 571.26l3.9 3.9l-3.9 3.9l-3.9 -3.9zM145.46 573.55l3.9 3.9l-3.9 3.9l-3.9 -3.9zM145.98 571.54l3.9 3.9l-3.9 3.9l-3.9 -3.9zM145.98 573.80l3.9 3.9l-3.9 3.9l-3.9 -3.9zM146.49 571.82l3.9 3.9l-3.9 3.9l-3.9 -3.9zM146.49 574.04l3.9 3.9l-3.9 3.9l-3.9 -3.9zM147.00 572.09l3.9 3.9l-3.9 3.9l-3.9 -3.9zM147.00 574.29l3.9 3.9l-3.9 3.9l-3.9 -3.9zM147.51 572.37l3.9 3.9l-3.9 3.9l-3.9 -3.9zM147.51 574.53l3.9 3.9l-3.9 3.9l-3.9 -3.9zM148.03 572.65l3.9 3.9l-3.9 3.9l-3.9 -3.9zM148.03 574.77l3.9 3.9l-3.9 3.9l-3.9 -3.9zM148.54 572.82l3.9 3.9l-3.9 3.9l-3.9 -3.9zM148.54 574.91l3.9 3.9l-3.9 3.9l-3.9 -3.9zM149.05 573.00l3.9 3.9l-3.9 3.9l-3.9 -3.9zM149.05 575.06l3.9 3.9l-3.9 3.9l-3.9 -3.9zM149.57 573.17l3.9 3.9l-3.9 3.9l-3.9 -3.9zM149.57 575.20l3.9 3.9l-3.9 3.9l-3.9 -3.9zM150.08 573.34l3.9 3.9l-3.9 3.9l-3.9 -3.9zM150.08 575.34l3.9 3.9l-3.9 3.9l-3.9 -3.9zM150.59 573.51l3.9 3.9l-3.9 3.9l-3.9 -3.9zM150.59 575.49l3.9 3.9l-3.9 3.9l-3.9 -3.9zM151.10 573.67l3.9 3.9l-3.9 3.9l-3.9 -3.9zM151.10 575.65l3.9 3.9l-3.9 3.9l-3.9 -3.9zM151.62 573.84l3.9 3.9l-3.9 3.9l-3.9 -3.9zM151.62 575.80l3.9 3.9l-3.9 3.9l-3.9 -3.9zM152.13 574.00l3.9 3.9l-3.9 3.9l-3.9 -3.9zM152.13 575.95l3.9 3.9l-3.9 3.9l-3.9 -3.9zM152.64 574.16l3.9 3.9l-3.9 3.9l-3.9 -3.9zM152.64 576.10l3.9 3.9l-3.9 3.9l-3.9 -3.9zM153.15 574.33l3.9 3.9l-3.9 3.9l-3.9 -3.9zM153.15 576.26l3.9 3.9l-3.9 3.9l-3.9 -3.9zM153.67 574.49l3.9 3.9l-3.9 3.9l-3.9 -3.9zM153.67 576.41l3.9 3.9l-3.9 3.9l-3.9 -3.9zM154.18 574.64l3.9 3.9l-3.9 3.9l-3.9 -3.9zM154.18 576.54l3.9 3.9l-3.9 3.9l-3.9 -3.9zM154.69 574.79l3.9 3.9l-3.9 3.9l-3.9 -3.9zM154.69 576.68l3.9 3.9l-3.9 3.9l-3.9 -3.9zM155.21 574.94l3.9 3.9l-3.9 3.9l-3.9 -3.9zM155.21 576.82l3.9 3.9l-3.9 3.9l-3.9 -3.9zM155.72 575.09l3.9 3.9l-3.9 3.9l-3.9 -3.9zM155.72 576.96l3.9 3.9l-3.9 3.9l-3.9 -3.9zM156.23 575.24l3.9 3.9l-3.9 3.9l-3.9 -3.9zM156.23 577.10l3.9 3.9l-3.9 3.9l-3.9 -3.9zM156.74 575.39l3.9 3.9l-3.9 3.9l-3.9 -3.9zM156.74 577.24l3.9 3.9l-3.9 3.9l-3.9 -3.9zM157.26 575.54l3.9 3.9l-3.9 3.9l-3.9 -3.9zM157.26 577.37l3.9 3.9l-3.9 3.9l-3.9 -3.9zM157.77 575.69l3.9 3.9l-3.9 3.9l-3.9 -3.9zM157.77 577.51l3.9 3.9l-3.9 3.9l-3.9 -3.9zM158.28 575.84l3.9 3.9l-3.9 3.9l-3.9 -3.9zM158.28 577.65l3.9 3.9l-3.9 3.9l-3.9 -3.9zM158.79 575.99l3.9 3.9l-3.9 3.9l-3.9 -3.9zM158.79 577.79l3.9 3.9l-3.9 3.9l-3.9 -3.9zM159.31 576.14l3.9 3.9l-3.9 3.9l-3.9 -3.9zM159.31 577.93l3.9 3.9l-3.9 3.9l-3.9 -3.9zM159.82 576.29l3.9 3.9l-3.9 3.9l-3.9 -3.9zM159.82 578.07l3.9 3.9l-3.9 3.9l-3.9 -3.9zM160.33 576.44l3.9 3.9l-3.9 3.9l-3.9 -3.9zM160.33 578.20l3.9 3.9l-3.9 3.9l-3.9 -3.9zM160.85 576.59l3.9 3.9l-3.9 3.9l-3.9 -3.9zM160.85 578.34l3.9 3.9l-3.9 3.9l-3.9 -3.9zM161.36 576.74l3.9 3.9l-3.9 3.9l-3.9 -3.9zM161.36 578.48l3.9 3.9l-3.9 3.9l-3.9 -3.9zM161.87 576.89l3.9 3.9l-3.9 3.9l-3.9 -3.9zM161.87 578.62l3.9 3.9l-3.9 3.9l-3.9 -3.9zM162.38 577.04l3.9 3.9l-3.9 3.9l-3.9 -3.9zM162.38 578.76l3.9 3.9l-3.9 3.9l-3.9 -3.9zM162.90 577.19l3.9 3.9l-3.9 3.9l-3.9 -3.9zM162.90 578.90l3.9 3.9l-3.9 3.9l-3.9 -3.9zM163.41 577.37l3.9 3.9l-3.9 3.9l-3.9 -3.9zM163.41 579.06l3.9 3.9l-3.9 3.9l-3.9 -3.9zM163.92 577.56l3.9 3.9l-3.9 3.9l-3.9 -3.9zM163.92 579.24l3.9 3.9l-3.9 3.9l-3.9 -3.9zM164.43 577.75l3.9 3.9l-3.9 3.9l-3.9 -3.9zM164.43 579.42l3.9 3.9l-3.9 3.9l-3.9 -3.9zM164.95 577.94l3.9 3.9l-3.9 3.9l-3.9 -3.9zM164.95 579.60l3.9 3.9l-3.9 3.9l-3.9 -3.9zM165.46 578.14l3.9 3.9l-3.9 3.9l-3.9 -3.9zM165.46 579.78l3.9 3.9l-3.9 3.9l-3.9 -3.9zM165.97 578.33l3.9 3.9l-3.9 3.9l-3.9 -3.9zM165.97 579.96l3.9 3.9l-3.9 3.9l-3.9 -3.9zM166.49 578.52l3.9 3.9l-3.9 3.9l-3.9 -3.9zM166.49 580.15l3.9 3.9l-3.9 3.9l-3.9 -3.9zM167.00 578.72l3.9 3.9l-3.9 3.9l-3.9 -3.9zM167.00 580.33l3.9 3.9l-3.9 3.9l-3.9 -3.9zM167.51 578.91l3.9 3.9l-3.9 3.9l-3.9 -3.9zM167.51 580.51l3.9 3.9l-3.9 3.9l-3.9 -3.9zM168.02 579.10l3.9 3.9l-3.9 3.9l-3.9 -3.9zM168.02 580.69l3.9 3.9l-3.9 3.9l-3.9 -3.9zM168.54 579.29l3.9 3.9l-3.9 3.9l-3.9 -3.9zM168.54 580.87l3.9 3.9l-3.9 3.9l-3.9 -3.9zM169.05 579.49l3.9 3.9l-3.9 3.9l-3.9 -3.9zM169.05 581.05l3.9 3.9l-3.9 3.9l-3.9 -3.9zM169.56 579.68l3.9 3.9l-3.9 3.9l-3.9 -3.9zM169.56 581.23l3.9 3.9l-3.9 3.9l-3.9 -3.9zM170.07 579.87l3.9 3.9l-3.9 3.9l-3.9 -3.9zM170.07 581.41l3.9 3.9l-3.9 3.9l-3.9 -3.9zM170.59 580.06l3.9 3.9l-3.9 3.9l-3.9 -3.9zM170.59 581.59l3.9 3.9l-3.9 3.9l-3.9 -3.9zM171.10 580.26l3.9 3.9l-3.9 3.9l-3.9 -3.9zM171.10 581.78l3.9 3.9l-3.9 3.9l-3.9 -3.9zM171.61 580.45l3.9 3.9l-3.9 3.9l-3.9 -3.9zM171.61 581.96l3.9 3.9l-3.9 3.9l-3.9 -3.9zM172.13 580.64l3.9 3.9l-3.9 3.9l-3.9 -3.9zM172.13 582.14l3.9 3.9l-3.9 3.9l-3.9 -3.9zM172.64 580.84l3.9 3.9l-3.9 3.9l-3.9 -3.9zM172.64 582.32l3.9 3.9l-3.9 3.9l-3.9 -3.9zM173.15 580.98l3.9 3.9l-3.9 3.9l-3.9 -3.9zM173.15 582.45l3.9 3.9l-3.9 3.9l-3.9 -3.9zM173.66 581.12l3.9 3.9l-3.9 3.9l-3.9 -3.9zM173.66 582.58l3.9 3.9l-3.9 3.9l-3.9 -3.9zM174.18 581.26l3.9 3.9l-3.9 3.9l-3.9 -3.9zM174.18 582.71l3.9 3.9l-3.9 3.9l-3.9 -3.9zM174.69 581.40l3.9 3.9l-3.9 3.9l-3.9 -3.9zM174.69 582.84l3.9 3.9l-3.9 3.9l-3.9 -3.9zM175.20 581.54l3.9 3.9l-3.9 3.9l-3.9 -3.9zM175.20 582.96l3.9 3.9l-3.9 3.9l-3.9 -3.9zM175.71 581.68l3.9 3.9l-3.9 3.9l-3.9 -3.9zM175.71 583.09l3.9 3.9l-3.9 3.9l-3.9 -3.9zM176.23 581.82l3.9 3.9l-3.9 3.9l-3.9 -3.9zM176.23 583.22l3.9 3.9l-3.9 3.9l-3.9 -3.9zM176.74 581.96l3.9 3.9l-3.9 3.9l-3.9 -3.9zM176.74 583.35l3.9 3.9l-3.9 3.9l-3.9 -3.9zM177.25 582.10l3.9 3.9l-3.9 3.9l-3.9 -3.9zM177.25 583.47l3.9 3.9l-3.9 3.9l-3.9 -3.9zM177.77 582.24l3.9 3.9l-3.9 3.9l-3.9 -3.9zM177.77 583.60l3.9 3.9l-3.9 3.9l-3.9 -3.9zM178.28 582.38l3.9 3.9l-3.9 3.9l-3.9 -3.9zM178.28 583.73l3.9 3.9l-3.9 3.9l-3.9 -3.9zM178.79 582.52l3.9 3.9l-3.9 3.9l-3.9 -3.9zM178.79 583.86l3.9 3.9l-3.9 3.9l-3.9 -3.9zM179.30 582.65l3.9 3.9l-3.9 3.9l-3.9 -3.9zM179.30 583.98l3.9 3.9l-3.9 3.9l-3.9 -3.9zM179.82 582.79l3.9 3.9l-3.9 3.9l-3.9 -3.9zM179.82 584.11l3.9 3.9l-3.9 3.9l-3.9 -3.9zM180.33 582.93l3.9 3.9l-3.9 3.9l-3.9 -3.9zM180.33 584.24l3.9 3.9l-3.9 3.9l-3.9 -3.9zM180.84 583.07l3.9 3.9l-3.9 3.9l-3.9 -3.9zM180.84 584.37l3.9 3.9l-3.9 3.9l-3.9 -3.9zM181.35 583.21l3.9 3.9l-3.9 3.9l-3.9 -3.9zM181.35 584.50l3.9 3.9l-3.9 3.9l-3.9 -3.9zM181.87 583.35l3.9 3.9l-3.9 3.9l-3.9 -3.9zM181.87 584.62l3.9 3.9l-3.9 3.9l-3.9 -3.9zM182.38 583.49l3.9 3.9l-3.9 3.9l-3.9 -3.9zM182.38 584.75l3.9 3.9l-3.9 3.9l-3.9 -3.9zM182.89 583.65l3.9 3.9l-3.9 3.9l-3.9 -3.9zM182.89 584.90l3.9 3.9l-3.9 3.9l-3.9 -3.9zM183.41 583.80l3.9 3.9l-3.9 3.9l-3.9 -3.9zM183.41 585.04l3.9 3.9l-3.9 3.9l-3.9 -3.9zM183.92 583.96l3.9 3.9l-3.9 3.9l-3.9 -3.9zM183.92 585.18l3.9 3.9l-3.9 3.9l-3.9 -3.9zM184.43 584.11l3.9 3.9l-3.9 3.9l-3.9 -3.9zM184.43 585.33l3.9 3.9l-3.9 3.9l-3.9 -3.9zM184.94 584.27l3.9 3.9l-3.9 3.9l-3.9 -3.9zM184.94 585.47l3.9 3.9l-3.9 3.9l-3.9 -3.9zM185.46 584.43l3.9 3.9l-3.9 3.9l-3.9 -3.9zM185.46 585.62l3.9 3.9l-3.9 3.9l-3.9 -3.9zM185.97 584.58l3.9 3.9l-3.9 3.9l-3.9 -3.9zM185.97 585.76l3.9 3.9l-3.9 3.9l-3.9 -3.9zM186.48 584.73l3.9 3.9l-3.9 3.9l-3.9 -3.9zM186.48 585.90l3.9 3.9l-3.9 3.9l-3.9 -3.9zM186.99 584.89l3.9 3.9l-3.9 3.9l-3.9 -3.9zM186.99 586.05l3.9 3.9l-3.9 3.9l-3.9 -3.9zM187.51 585.04l3.9 3.9l-3.9 3.9l-3.9 -3.9zM187.51 586.19l3.9 3.9l-3.9 3.9l-3.9 -3.9zM188.02 585.20l3.9 3.9l-3.9 3.9l-3.9 -3.9zM188.02 586.34l3.9 3.9l-3.9 3.9l-3.9 -3.9zM188.53 585.35l3.9 3.9l-3.9 3.9l-3.9 -3.9zM188.53 586.48l3.9 3.9l-3.9 3.9l-3.9 -3.9zM189.05 585.51l3.9 3.9l-3.9 3.9l-3.9 -3.9zM189.05 586.63l3.9 3.9l-3.9 3.9l-3.9 -3.9zM189.56 585.66l3.9 3.9l-3.9 3.9l-3.9 -3.9zM189.56 586.77l3.9 3.9l-3.9 3.9l-3.9 -3.9zM190.07 585.82l3.9 3.9l-3.9 3.9l-3.9 -3.9zM190.07 586.92l3.9 3.9l-3.9 3.9l-3.9 -3.9zM190.58 585.97l3.9 3.9l-3.9 3.9l-3.9 -3.9zM190.58 587.06l3.9 3.9l-3.9 3.9l-3.9 -3.9zM191.10 586.13l3.9 3.9l-3.9 3.9l-3.9 -3.9zM191.10 587.20l3.9 3.9l-3.9 3.9l-3.9 -3.9zM191.61 586.28l3.9 3.9l-3.9 3.9l-3.9 -3.9zM191.61 587.35l3.9 3.9l-3.9 3.9l-3.9 -3.9zM192.12 586.42l3.9 3.9l-3.9 3.9l-3.9 -3.9zM192.12 587.47l3.9 3.9l-3.9 3.9l-3.9 -3.9zM192.63 586.53l3.9 3.9l-3.9 3.9l-3.9 -3.9zM192.63 587.58l3.9 3.9l-3.9 3.9l-3.9 -3.9zM193.15 586.64l3.9 3.9l-3.9 3.9l-3.9 -3.9zM193.15 587.68l3.9 3.9l-3.9 3.9l-3.9 -3.9zM193.66 586.75l3.9 3.9l-3.9 3.9l-3.9 -3.9zM193.66 587.78l3.9 3.9l-3.9 3.9l-3.9 -3.9zM194.17 586.87l3.9 3.9l-3.9 3.9l-3.9 -3.9zM194.17 587.88l3.9 3.9l-3.9 3.9l-3.9 -3.9zM194.69 586.98l3.9 3.9l-3.9 3.9l-3.9 -3.9zM194.69 587.98l3.9 3.9l-3.9 3.9l-3.9 -3.9zM195.20 587.09l3.9 3.9l-3.9 3.9l-3.9 -3.9zM195.20 588.09l3.9 3.9l-3.9 3.9l-3.9 -3.9zM195.71 587.20l3.9 3.9l-3.9 3.9l-3.9 -3.9zM195.71 588.19l3.9 3.9l-3.9 3.9l-3.9 -3.9zM196.22 587.31l3.9 3.9l-3.9 3.9l-3.9 -3.9zM196.22 588.29l3.9 3.9l-3.9 3.9l-3.9 -3.9zM196.74 587.42l3.9 3.9l-3.9 3.9l-3.9 -3.9zM196.74 588.39l3.9 3.9l-3.9 3.9l-3.9 -3.9zM197.25 587.54l3.9 3.9l-3.9 3.9l-3.9 -3.9zM197.25 588.49l3.9 3.9l-3.9 3.9l-3.9 -3.9zM197.76 587.65l3.9 3.9l-3.9 3.9l-3.9 -3.9zM197.76 588.59l3.9 3.9l-3.9 3.9l-3.9 -3.9zM198.27 587.76l3.9 3.9l-3.9 3.9l-3.9 -3.9zM198.27 588.70l3.9 3.9l-3.9 3.9l-3.9 -3.9zM198.79 587.87l3.9 3.9l-3.9 3.9l-3.9 -3.9zM198.79 588.80l3.9 3.9l-3.9 3.9l-3.9 -3.9zM199.30 587.98l3.9 3.9l-3.9 3.9l-3.9 -3.9zM199.30 588.90l3.9 3.9l-3.9 3.9l-3.9 -3.9zM199.81 588.10l3.9 3.9l-3.9 3.9l-3.9 -3.9zM199.81 589.00l3.9 3.9l-3.9 3.9l-3.9 -3.9zM200.32 588.21l3.9 3.9l-3.9 3.9l-3.9 -3.9zM200.32 589.10l3.9 3.9l-3.9 3.9l-3.9 -3.9zM200.84 588.32l3.9 3.9l-3.9 3.9l-3.9 -3.9zM200.84 589.20l3.9 3.9l-3.9 3.9l-3.9 -3.9zM201.35 588.43l3.9 3.9l-3.9 3.9l-3.9 -3.9zM201.35 589.31l3.9 3.9l-3.9 3.9l-3.9 -3.9zM201.86 588.54l3.9 3.9l-3.9 3.9l-3.9 -3.9zM201.86 589.40l3.9 3.9l-3.9 3.9l-3.9 -3.9zM202.38 588.64l3.9 3.9l-3.9 3.9l-3.9 -3.9zM202.38 589.49l3.9 3.9l-3.9 3.9l-3.9 -3.9zM202.89 588.74l3.9 3.9l-3.9 3.9l-3.9 -3.9zM202.89 589.58l3.9 3.9l-3.9 3.9l-3.9 -3.9zM203.40 588.84l3.9 3.9l-3.9 3.9l-3.9 -3.9zM203.40 589.67l3.9 3.9l-3.9 3.9l-3.9 -3.9zM203.91 588.94l3.9 3.9l-3.9 3.9l-3.9 -3.9zM203.91 589.76l3.9 3.9l-3.9 3.9l-3.9 -3.9zM204.43 589.04l3.9 3.9l-3.9 3.9l-3.9 -3.9zM204.43 589.85l3.9 3.9l-3.9 3.9l-3.9 -3.9zM204.94 589.14l3.9 3.9l-3.9 3.9l-3.9 -3.9zM204.94 589.94l3.9 3.9l-3.9 3.9l-3.9 -3.9zM205.45 589.24l3.9 3.9l-3.9 3.9l-3.9 -3.9zM205.45 590.03l3.9 3.9l-3.9 3.9l-3.9 -3.9zM205.96 589.34l3.9 3.9l-3.9 3.9l-3.9 -3.9zM205.96 590.12l3.9 3.9l-3.9 3.9l-3.9 -3.9zM206.48 589.44l3.9 3.9l-3.9 3.9l-3.9 -3.9zM206.48 590.21l3.9 3.9l-3.9 3.9l-3.9 -3.9zM206.99 589.54l3.9 3.9l-3.9 3.9l-3.9 -3.9zM206.99 590.30l3.9 3.9l-3.9 3.9l-3.9 -3.9zM207.50 589.64l3.9 3.9l-3.9 3.9l-3.9 -3.9zM207.50 590.39l3.9 3.9l-3.9 3.9l-3.9 -3.9zM208.02 589.74l3.9 3.9l-3.9 3.9l-3.9 -3.9zM208.02 590.48l3.9 3.9l-3.9 3.9l-3.9 -3.9zM208.53 589.84l3.9 3.9l-3.9 3.9l-3.9 -3.9zM208.53 590.57l3.9 3.9l-3.9 3.9l-3.9 -3.9zM209.04 589.94l3.9 3.9l-3.9 3.9l-3.9 -3.9zM209.04 590.66l3.9 3.9l-3.9 3.9l-3.9 -3.9zM209.55 590.04l3.9 3.9l-3.9 3.9l-3.9 -3.9zM209.55 590.75l3.9 3.9l-3.9 3.9l-3.9 -3.9zM210.07 590.14l3.9 3.9l-3.9 3.9l-3.9 -3.9zM210.07 590.84l3.9 3.9l-3.9 3.9l-3.9 -3.9zM210.58 590.24l3.9 3.9l-3.9 3.9l-3.9 -3.9zM210.58 590.93l3.9 3.9l-3.9 3.9l-3.9 -3.9zM211.09 590.34l3.9 3.9l-3.9 3.9l-3.9 -3.9zM211.09 591.02l3.9 3.9l-3.9 3.9l-3.9 -3.9zM211.60 590.44l3.9 3.9l-3.9 3.9l-3.9 -3.9zM211.60 591.11l3.9 3.9l-3.9 3.9l-3.9 -3.9zM212.12 590.55l3.9 3.9l-3.9 3.9l-3.9 -3.9zM212.12 591.21l3.9 3.9l-3.9 3.9l-3.9 -3.9zM212.63 590.65l3.9 3.9l-3.9 3.9l-3.9 -3.9zM212.63 591.30l3.9 3.9l-3.9 3.9l-3.9 -3.9zM213.14 590.76l3.9 3.9l-3.9 3.9l-3.9 -3.9zM213.14 591.39l3.9 3.9l-3.9 3.9l-3.9 -3.9zM213.66 590.86l3.9 3.9l-3.9 3.9l-3.9 -3.9zM213.66 591.49l3.9 3.9l-3.9 3.9l-3.9 -3.9zM214.17 590.96l3.9 3.9l-3.9 3.9l-3.9 -3.9zM214.17 591.58l3.9 3.9l-3.9 3.9l-3.9 -3.9zM214.68 591.07l3.9 3.9l-3.9 3.9l-3.9 -3.9zM214.68 591.67l3.9 3.9l-3.9 3.9l-3.9 -3.9zM215.19 591.17l3.9 3.9l-3.9 3.9l-3.9 -3.9zM215.19 591.77l3.9 3.9l-3.9 3.9l-3.9 -3.9zM215.71 591.28l3.9 3.9l-3.9 3.9l-3.9 -3.9zM215.71 591.86l3.9 3.9l-3.9 3.9l-3.9 -3.9zM216.22 591.38l3.9 3.9l-3.9 3.9l-3.9 -3.9zM216.22 591.95l3.9 3.9l-3.9 3.9l-3.9 -3.9zM216.73 591.48l3.9 3.9l-3.9 3.9l-3.9 -3.9zM216.73 592.04l3.9 3.9l-3.9 3.9l-3.9 -3.9zM217.24 591.59l3.9 3.9l-3.9 3.9l-3.9 -3.9zM217.24 592.14l3.9 3.9l-3.9 3.9l-3.9 -3.9zM217.76 591.69l3.9 3.9l-3.9 3.9l-3.9 -3.9zM217.76 592.23l3.9 3.9l-3.9 3.9l-3.9 -3.9zM218.27 591.80l3.9 3.9l-3.9 3.9l-3.9 -3.9zM218.27 592.32l3.9 3.9l-3.9 3.9l-3.9 -3.9zM218.78 591.90l3.9 3.9l-3.9 3.9l-3.9 -3.9zM218.78 592.41l3.9 3.9l-3.9 3.9l-3.9 -3.9zM219.30 592.01l3.9 3.9l-3.9 3.9l-3.9 -3.9zM219.30 592.51l3.9 3.9l-3.9 3.9l-3.9 -3.9zM219.81 592.11l3.9 3.9l-3.9 3.9l-3.9 -3.9zM219.81 592.60l3.9 3.9l-3.9 3.9l-3.9 -3.9zM220.32 592.22l3.9 3.9l-3.9 3.9l-3.9 -3.9zM220.32 592.69l3.9 3.9l-3.9 3.9l-3.9 -3.9zM220.83 592.32l3.9 3.9l-3.9 3.9l-3.9 -3.9zM220.83 592.78l3.9 3.9l-3.9 3.9l-3.9 -3.9zM221.35 592.43l3.9 3.9l-3.9 3.9l-3.9 -3.9zM221.35 592.88l3.9 3.9l-3.9 3.9l-3.9 -3.9zM221.86 592.53l3.9 3.9l-3.9 3.9l-3.9 -3.9zM221.86 592.97l3.9 3.9l-3.9 3.9l-3.9 -3.9zM222.37 592.64l3.9 3.9l-3.9 3.9l-3.9 -3.9zM222.37 593.06l3.9 3.9l-3.9 3.9l-3.9 -3.9zM222.88 592.74l3.9 3.9l-3.9 3.9l-3.9 -3.9zM222.88 593.15l3.9 3.9l-3.9 3.9l-3.9 -3.9zM223.40 592.85l3.9 3.9l-3.9 3.9l-3.9 -3.9zM223.40 593.24l3.9 3.9l-3.9 3.9l-3.9 -3.9zM223.91 592.95l3.9 3.9l-3.9 3.9l-3.9 -3.9zM223.91 593.34l3.9 3.9l-3.9 3.9l-3.9 -3.9zM224.42 593.04l3.9 3.9l-3.9 3.9l-3.9 -3.9zM224.42 593.41l3.9 3.9l-3.9 3.9l-3.9 -3.9zM224.94 593.09l3.9 3.9l-3.9 3.9l-3.9 -3.9zM224.94 593.45l3.9 3.9l-3.9 3.9l-3.9 -3.9zM225.45 593.15l3.9 3.9l-3.9 3.9l-3.9 -3.9zM225.45 593.50l3.9 3.9l-3.9 3.9l-3.9 -3.9zM225.96 593.20l3.9 3.9l-3.9 3.9l-3.9 -3.9zM225.96 593.54l3.9 3.9l-3.9 3.9l-3.9 -3.9zM226.47 593.26l3.9 3.9l-3.9 3.9l-3.9 -3.9zM226.47 593.59l3.9 3.9l-3.9 3.9l-3.9 -3.9zM226.99 593.32l3.9 3.9l-3.9 3.9l-3.9 -3.9zM226.99 593.63l3.9 3.9l-3.9 3.9l-3.9 -3.9zM227.50 593.37l3.9 3.9l-3.9 3.9l-3.9 -3.9zM227.50 593.67l3.9 3.9l-3.9 3.9l-3.9 -3.9zM228.01 593.43l3.9 3.9l-3.9 3.9l-3.9 -3.9zM228.01 593.72l3.9 3.9l-3.9 3.9l-3.9 -3.9zM228.52 593.49l3.9 3.9l-3.9 3.9l-3.9 -3.9zM228.52 593.76l3.9 3.9l-3.9 3.9l-3.9 -3.9zM229.04 593.54l3.9 3.9l-3.9 3.9l-3.9 -3.9zM229.04 593.81l3.9 3.9l-3.9 3.9l-3.9 -3.9zM229.55 593.60l3.9 3.9l-3.9 3.9l-3.9 -3.9zM229.55 593.85l3.9 3.9l-3.9 3.9l-3.9 -3.9zM230.06 593.66l3.9 3.9l-3.9 3.9l-3.9 -3.9zM230.06 593.90l3.9 3.9l-3.9 3.9l-3.9 -3.9zM230.58 593.71l3.9 3.9l-3.9 3.9l-3.9 -3.9zM230.58 593.94l3.9 3.9l-3.9 3.9l-3.9 -3.9zM231.09 593.77l3.9 3.9l-3.9 3.9l-3.9 -3.9zM231.09 593.99l3.9 3.9l-3.9 3.9l-3.9 -3.9zM231.60 593.83l3.9 3.9l-3.9 3.9l-3.9 -3.9zM231.60 594.03l3.9 3.9l-3.9 3.9l-3.9 -3.9zM232.11 593.88l3.9 3.9l-3.9 3.9l-3.9 -3.9zM232.11 594.07l3.9 3.9l-3.9 3.9l-3.9 -3.9zM232.63 593.94l3.9 3.9l-3.9 3.9l-3.9 -3.9zM232.63 594.12l3.9 3.9l-3.9 3.9l-3.9 -3.9zM233.14 594.00l3.9 3.9l-3.9 3.9l-3.9 -3.9zM233.14 594.16l3.9 3.9l-3.9 3.9l-3.9 -3.9zM233.65 594.05l3.9 3.9l-3.9 3.9l-3.9 -3.9zM233.65 594.21l3.9 3.9l-3.9 3.9l-3.9 -3.9zM234.16 594.11l3.9 3.9l-3.9 3.9l-3.9 -3.9zM234.16 594.25l3.9 3.9l-3.9 3.9l-3.9 -3.9zM234.68 594.17l3.9 3.9l-3.9 3.9l-3.9 -3.9zM234.68 594.30l3.9 3.9l-3.9 3.9l-3.9 -3.9zM235.19 594.22l3.9 3.9l-3.9 3.9l-3.9 -3.9zM235.19 594.34l3.9 3.9l-3.9 3.9l-3.9 -3.9zM235.70 594.28l3.9 3.9l-3.9 3.9l-3.9 -3.9zM235.70 594.38l3.9 3.9l-3.9 3.9l-3.9 -3.9z" fill="#000080"/>
<text x="135.7" y="522.5" font-size="13.5" text-anchor="start" font-weight="normal" fill="#000" stroke="#000" stroke-width="0.12" >#147 GPVI; ~1000</text>
<line x1="131.5" y1="532.7" x2="122.3" y2="540.4" stroke="#000" stroke-width="1.7"/>
<path d="M115.0 546.5L119.7 535.7L126.4 543.8Z" fill="#000"/>
<text x="200.9" y="569.0" font-size="13.5" text-anchor="start" font-weight="normal" fill="#000" stroke="#000" stroke-width="0.12" >#295 P2Y12; ~600</text>
<line x1="211.4" y1="572.3" x2="201.9" y2="580.2" stroke="#000" stroke-width="1.7"/>
<path d="M194.6 586.3L199.3 575.5L206.0 583.6Z" fill="#000"/>
<text x="294.6" y="580.6" font-size="13.5" text-anchor="start" font-weight="normal" fill="#000" stroke="#000" stroke-width="0.12" >#481 P2Y1; ~150</text>
<line x1="287.1" y1="582.3" x2="277.7" y2="590.1" stroke="#000" stroke-width="1.7"/>
<path d="M270.4 596.2L275.1 585.4L281.8 593.5Z" fill="#000"/>
<path d="M121 328.6H517.7V551.3H276.7V446.2H121Z" fill="#fff" stroke="#b0b0b0" stroke-width="1"/>
<rect x="128.5" y="338.1" width="8" height="8" fill="#660066" stroke="#808080" stroke-width="0.6"/>
<text x="141.0" y="346.9" font-size="14.1" text-anchor="start" font-weight="normal" fill="#000" stroke="#000" stroke-width="0.12" >Mitochondrion</text>
<rect x="128.5" y="359.8" width="8" height="8" fill="#ccffff" stroke="#808080" stroke-width="0.6"/>
<text x="141.0" y="368.6" font-size="14.1" text-anchor="start" font-weight="normal" fill="#000" stroke="#000" stroke-width="0.12" >Golgi</text>
<rect x="128.5" y="381.5" width="8" height="8" fill="#ffffcc" stroke="#808080" stroke-width="0.6"/>
<text x="141.0" y="390.3" font-size="14.1" text-anchor="start" font-weight="normal" fill="#000" stroke="#000" stroke-width="0.12" >ER</text>
<rect x="128.5" y="403.2" width="8" height="8" fill="#993366" stroke="#808080" stroke-width="0.6"/>
<text x="141.0" y="412.0" font-size="14.1" text-anchor="start" font-weight="normal" fill="#000" stroke="#000" stroke-width="0.12" >plasma membrane</text>
<rect x="128.5" y="424.9" width="8" height="8" fill="#9999ff" stroke="#808080" stroke-width="0.6"/>
<text x="141.0" y="433.7" font-size="14.1" text-anchor="start" font-weight="normal" fill="#000" stroke="#000" stroke-width="0.12" >intrinsic to membrane</text>
<path d="M330.9 341.0L342.9 332.5L342.9 501.7L330.9 510.2Z" fill="#c8c8c8" stroke="#909090" stroke-width="0.8"/>
<rect x="342.9" y="332.5" width="168.3" height="169.2" fill="#c6c6c4" stroke="#909090" stroke-width="0.8"/>
<path d="M330.9 510.2L342.9 501.7L511.2 501.7L499.2 510.2Z" fill="#868686"/>
<line x1="342.9" y1="349.4" x2="511.2" y2="349.4" stroke="#8a8a8a" stroke-width="0.8"/>
<line x1="330.9" y1="357.9" x2="342.9" y2="349.4" stroke="#8a8a8a" stroke-width="0.8"/>
<line x1="342.9" y1="366.3" x2="511.2" y2="366.3" stroke="#8a8a8a" stroke-width="0.8"/>
<line x1="330.9" y1="374.8" x2="342.9" y2="366.3" stroke="#8a8a8a" stroke-width="0.8"/>
<line x1="342.9" y1="383.3" x2="511.2" y2="383.3" stroke="#8a8a8a" stroke-width="0.8"/>
<line x1="330.9" y1="391.8" x2="342.9" y2="383.3" stroke="#8a8a8a" stroke-width="0.8"/>
<line x1="342.9" y1="400.2" x2="511.2" y2="400.2" stroke="#8a8a8a" stroke-width="0.8"/>
<line x1="330.9" y1="408.7" x2="342.9" y2="400.2" stroke="#8a8a8a" stroke-width="0.8"/>
<line x1="342.9" y1="417.1" x2="511.2" y2="417.1" stroke="#8a8a8a" stroke-width="0.8"/>
<line x1="330.9" y1="425.6" x2="342.9" y2="417.1" stroke="#8a8a8a" stroke-width="0.8"/>
<line x1="342.9" y1="434.0" x2="511.2" y2="434.0" stroke="#8a8a8a" stroke-width="0.8"/>
<line x1="330.9" y1="442.5" x2="342.9" y2="434.0" stroke="#8a8a8a" stroke-width="0.8"/>
<line x1="342.9" y1="450.9" x2="511.2" y2="450.9" stroke="#8a8a8a" stroke-width="0.8"/>
<line x1="330.9" y1="459.4" x2="342.9" y2="450.9" stroke="#8a8a8a" stroke-width="0.8"/>
<line x1="342.9" y1="467.9" x2="511.2" y2="467.9" stroke="#8a8a8a" stroke-width="0.8"/>
<line x1="330.9" y1="476.4" x2="342.9" y2="467.9" stroke="#8a8a8a" stroke-width="0.8"/>
<line x1="342.9" y1="484.8" x2="511.2" y2="484.8" stroke="#8a8a8a" stroke-width="0.8"/>
<line x1="330.9" y1="493.3" x2="342.9" y2="484.8" stroke="#8a8a8a" stroke-width="0.8"/>
<line x1="327.9" y1="341.0" x2="330.9" y2="341.0" stroke="#808080" stroke-width="0.8"/>
<text x="327.4" y="345.6" font-size="13" text-anchor="end" font-weight="normal" fill="#000" stroke="#000" stroke-width="0.12" >100%</text>
<line x1="327.9" y1="357.9" x2="330.9" y2="357.9" stroke="#808080" stroke-width="0.8"/>
<line x1="327.9" y1="374.8" x2="330.9" y2="374.8" stroke="#808080" stroke-width="0.8"/>
<text x="326.0" y="379.4" font-size="13" text-anchor="end" font-weight="normal" fill="#000" stroke="#000" stroke-width="0.12" >80%</text>
<line x1="327.9" y1="391.8" x2="330.9" y2="391.8" stroke="#808080" stroke-width="0.8"/>
<line x1="327.9" y1="408.7" x2="330.9" y2="408.7" stroke="#808080" stroke-width="0.8"/>
<text x="326.0" y="413.3" font-size="13" text-anchor="end" font-weight="normal" fill="#000" stroke="#000" stroke-width="0.12" >60%</text>
<line x1="327.9" y1="425.6" x2="330.9" y2="425.6" stroke="#808080" stroke-width="0.8"/>
<line x1="327.9" y1="442.5" x2="330.9" y2="442.5" stroke="#808080" stroke-width="0.8"/>
<text x="326.0" y="447.1" font-size="13" text-anchor="end" font-weight="normal" fill="#000" stroke="#000" stroke-width="0.12" >40%</text>
<line x1="327.9" y1="459.4" x2="330.9" y2="459.4" stroke="#808080" stroke-width="0.8"/>
<line x1="327.9" y1="476.4" x2="330.9" y2="476.4" stroke="#808080" stroke-width="0.8"/>
<text x="326.2" y="481.0" font-size="13" text-anchor="end" font-weight="normal" fill="#000" stroke="#000" stroke-width="0.12" >20%</text>
<line x1="327.9" y1="493.3" x2="330.9" y2="493.3" stroke="#808080" stroke-width="0.8"/>
<line x1="327.9" y1="510.2" x2="330.9" y2="510.2" stroke="#808080" stroke-width="0.8"/>
<text x="324.6" y="514.8" font-size="13" text-anchor="end" font-weight="normal" fill="#000" stroke="#000" stroke-width="0.12" >0%</text>
<line x1="330.9" y1="341.0" x2="330.9" y2="510.2" stroke="#808080" stroke-width="0.8"/>
<line x1="330.9" y1="510.2" x2="330.9" y2="513.2" stroke="#808080" stroke-width="0.8"/>
<line x1="364.5" y1="510.2" x2="364.5" y2="513.2" stroke="#808080" stroke-width="0.8"/>
<line x1="398.1" y1="510.2" x2="398.1" y2="513.2" stroke="#808080" stroke-width="0.8"/>
<line x1="431.7" y1="510.2" x2="431.7" y2="513.2" stroke="#808080" stroke-width="0.8"/>
<line x1="465.3" y1="510.2" x2="465.3" y2="513.2" stroke="#808080" stroke-width="0.8"/>
<line x1="498.9" y1="510.2" x2="498.9" y2="513.2" stroke="#808080" stroke-width="0.8"/>
<rect x="345.0" y="340.6" width="13.4" height="7.6" fill="#ccffff"/>
<path d="M358.4 340.6L363.0 335.8L363.0 343.4L358.4 348.2Z" fill="#669999"/>
<rect x="345.0" y="348.2" width="13.4" height="16.6" fill="#ffffcc"/>
<path d="M358.4 348.2L363.0 343.4L363.0 360.0L358.4 364.8Z" fill="#99997a"/>
<rect x="345.0" y="364.8" width="13.4" height="66.1" fill="#993366"/>
<path d="M358.4 364.8L363.0 360.0L363.0 426.09999999999997L358.4 430.9Z" fill="#4d1a33"/>
<rect x="345.0" y="430.9" width="13.4" height="76.5" fill="#9999ff"/>
<path d="M358.4 430.9L363.0 426.09999999999997L363.0 502.59999999999997L358.4 507.4Z" fill="#4d4d80"/>
<path d="M345.0 340.6L349.6 335.8L363.0 335.8L358.4 340.6Z" fill="#660066"/>
<text x="0" y="0" font-size="13.2" text-anchor="middle" fill="#000" transform="translate(356.5,357.6) rotate(-90)">9</text>
<text x="0" y="0" font-size="13.2" text-anchor="middle" fill="#fff" transform="translate(356.5,407.9) rotate(-90)">33</text>
<text x="0" y="0" font-size="13.2" text-anchor="middle" fill="#fff" transform="translate(356.5,463.8) rotate(-90)">39</text>
<rect x="378.8" y="340.6" width="13.4" height="10.9" fill="#ccffff"/>
<path d="M392.2 340.6L396.8 335.8L396.8 346.7L392.2 351.5Z" fill="#669999"/>
<rect x="378.8" y="351.5" width="13.4" height="19.1" fill="#ffffcc"/>
<path d="M392.2 351.5L396.8 346.7L396.8 365.8L392.2 370.6Z" fill="#99997a"/>
<rect x="378.8" y="370.6" width="13.4" height="56.0" fill="#993366"/>
<path d="M392.2 370.6L396.8 365.8L396.8 421.8L392.2 426.6Z" fill="#4d1a33"/>
<rect x="378.8" y="426.6" width="13.4" height="80.8" fill="#9999ff"/>
<path d="M392.2 426.6L396.8 421.8L396.8 502.59999999999997L392.2 507.4Z" fill="#4d4d80"/>
<path d="M378.8 340.6L383.40000000000003 335.8L396.8 335.8L392.2 340.6Z" fill="#660066"/>
<text x="0" y="0" font-size="13.2" text-anchor="middle" fill="#000" transform="translate(390.3,359.4) rotate(-90)">18</text>
<text x="0" y="0" font-size="13.2" text-anchor="middle" fill="#fff" transform="translate(390.3,407.9) rotate(-90)">52</text>
<text x="0" y="0" font-size="13.2" text-anchor="middle" fill="#fff" transform="translate(390.3,460.5) rotate(-90)">76</text>
<rect x="412.4" y="340.3" width="13.4" height="6.2" fill="#800080"/>
<path d="M425.79999999999995 340.3L430.4 335.5L430.4 341.7L425.79999999999995 346.5Z" fill="#4d004d"/>
<rect x="412.4" y="346.5" width="13.4" height="11.0" fill="#ccffff"/>
<path d="M425.79999999999995 346.5L430.4 341.7L430.4 352.7L425.79999999999995 357.5Z" fill="#669999"/>
<rect x="412.4" y="357.5" width="13.4" height="24.5" fill="#ffffcc"/>
<path d="M425.79999999999995 357.5L430.4 352.7L430.4 377.2L425.79999999999995 382Z" fill="#99997a"/>
<rect x="412.4" y="382" width="13.4" height="45.0" fill="#993366"/>
<path d="M425.79999999999995 382L430.4 377.2L430.4 422.2L425.79999999999995 427Z" fill="#4d1a33"/>
<rect x="412.4" y="427" width="13.4" height="80.4" fill="#9999ff"/>
<path d="M425.79999999999995 427L430.4 422.2L430.4 502.59999999999997L425.79999999999995 507.4Z" fill="#4d4d80"/>
<path d="M412.4 340.3L417.0 335.5L430.4 335.5L425.79999999999995 340.3Z" fill="#660066"/>
<text x="0" y="0" font-size="13.2" text-anchor="middle" fill="#000" transform="translate(423.9,369.8) rotate(-90)">46</text>
<text x="0" y="0" font-size="13.2" text-anchor="middle" fill="#fff" transform="translate(423.9,407.9) rotate(-90)">82</text>
<text x="0" y="0" font-size="13.2" text-anchor="middle" fill="#fff" transform="translate(423.9,459.7) rotate(-90)">150</text>
<rect x="446.0" y="340.3" width="13.4" height="10.1" fill="#800080"/>
<path d="M459.4 340.3L464.0 335.5L464.0 345.59999999999997L459.4 350.4Z" fill="#4d004d"/>
<rect x="446.0" y="350.4" width="13.4" height="13.4" fill="#ccffff"/>
<path d="M459.4 350.4L464.0 345.59999999999997L464.0 359.0L459.4 363.8Z" fill="#669999"/>
<rect x="446.0" y="363.8" width="13.4" height="23.4" fill="#ffffcc"/>
<path d="M459.4 363.8L464.0 359.0L464.0 382.4L459.4 387.2Z" fill="#99997a"/>
<rect x="446.0" y="387.2" width="13.4" height="38.6" fill="#993366"/>
<path d="M459.4 387.2L464.0 382.4L464.0 421.0L459.4 425.8Z" fill="#4d1a33"/>
<rect x="446.0" y="425.8" width="13.4" height="81.6" fill="#9999ff"/>
<path d="M459.4 425.8L464.0 421.0L464.0 502.59999999999997L459.4 507.4Z" fill="#4d4d80"/>
<path d="M446.0 340.3L450.6 335.5L464.0 335.5L459.4 340.3Z" fill="#660066"/>
<text x="0" y="0" font-size="13.2" text-anchor="middle" fill="#000" transform="translate(457.5,375.0) rotate(-90)">79</text>
<text x="0" y="0" font-size="13.2" text-anchor="middle" fill="#fff" transform="translate(457.5,403.5) rotate(-90)">128</text>
<text x="0" y="0" font-size="13.2" text-anchor="middle" fill="#fff" transform="translate(457.5,460.5) rotate(-90)">266</text>
<rect x="480.0" y="340.3" width="13.4" height="9.0" fill="#800080"/>
<path d="M493.4 340.3L498.0 335.5L498.0 344.5L493.4 349.3Z" fill="#4d004d"/>
<rect x="480.0" y="349.3" width="13.4" height="15.3" fill="#ccffff"/>
<path d="M493.4 349.3L498.0 344.5L498.0 359.8L493.4 364.6Z" fill="#669999"/>
<rect x="480.0" y="364.6" width="13.4" height="24.6" fill="#ffffcc"/>
<path d="M493.4 364.6L498.0 359.8L498.0 384.4L493.4 389.2Z" fill="#99997a"/>
<rect x="480.0" y="389.2" width="13.4" height="36.3" fill="#993366"/>
<path d="M493.4 389.2L498.0 384.4L498.0 420.7L493.4 425.5Z" fill="#4d1a33"/>
<rect x="480.0" y="425.5" width="13.4" height="81.9" fill="#9999ff"/>
<path d="M493.4 425.5L498.0 420.7L498.0 502.59999999999997L493.4 507.4Z" fill="#4d4d80"/>
<path d="M480.0 340.3L484.6 335.5L498.0 335.5L493.4 340.3Z" fill="#660066"/>
<text x="0" y="0" font-size="13.2" text-anchor="middle" fill="#000" transform="translate(491.5,377.0) rotate(-90)">164</text>
<text x="0" y="0" font-size="13.2" text-anchor="middle" fill="#fff" transform="translate(491.5,403.5) rotate(-90)">241</text>
<text x="0" y="0" font-size="13.2" text-anchor="middle" fill="#fff" transform="translate(491.5,459.7) rotate(-90)">535</text>
<text x="0" y="0" font-size="13.4" text-anchor="end" stroke="#000" stroke-width="0.12" transform="translate(358.8,520.6) rotate(-45)">top 50</text>
<text x="0" y="0" font-size="13.4" text-anchor="end" stroke="#000" stroke-width="0.12" transform="translate(392.7,520.3) rotate(-45)">top 100</text>
<text x="0" y="0" font-size="13.4" text-anchor="end" stroke="#000" stroke-width="0.12" transform="translate(426.3,520.3) rotate(-45)">top 200</text>
<text x="0" y="0" font-size="13.4" text-anchor="end" stroke="#000" stroke-width="0.12" transform="translate(459.9,520.3) rotate(-45)">top 400</text>
<text x="0" y="0" font-size="13.4" text-anchor="end" stroke="#000" stroke-width="0.12" transform="translate(493.3,520.5) rotate(-45)">all 935</text>
<text x="0.0" y="0.0" font-size="13.5" text-anchor="middle" font-weight="bold" fill="#000" transform="translate(291.5,415.8) rotate(-90)">relatative %</text>
</svg>
</body></html>
